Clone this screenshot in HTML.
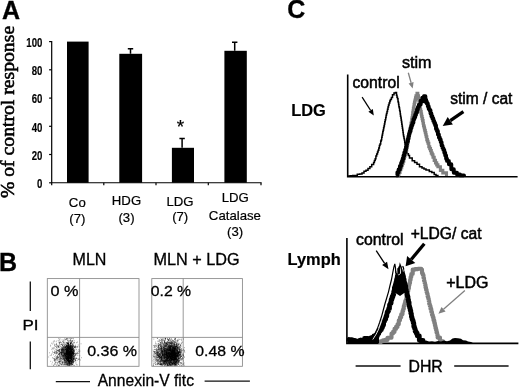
<!DOCTYPE html>
<html lang="en">
<head>
<meta charset="utf-8">
<title>Figure</title>
<style>
html,body{margin:0;padding:0;background:#fff;}
body{width:520px;height:387px;overflow:hidden;}
svg{display:block;filter:blur(0.35px);}
text{font-family:"Liberation Sans", sans-serif;fill:#000;stroke:#000;stroke-width:0.32px;}
.pl{font-size:25px;font-weight:bold;fill:#000;}
.t13{font-size:13.2px;stroke-width:0.2px;}
.t15{font-size:15.6px;stroke-width:0.5px;}
.t16{font-size:15.6px;stroke-width:0.4px;}
.b17{font-size:17.2px;font-weight:bold;stroke-width:0.2px;}
.t16b{font-size:16.4px;stroke-width:0.3px;}
.t15b{font-size:15.4px;stroke-width:0.3px;}
.b15{font-size:15.5px;font-weight:bold;fill:#000;}
.tk{font-size:12.5px;font-weight:bold;fill:#000;stroke-width:0.15px;}
.yl{font-family:"Liberation Serif", serif;font-size:19.7px;fill:#000;stroke-width:0.6px;}
.ax1{stroke:#000;stroke-width:1.2;fill:none;}
.ax2{stroke:#000;stroke-width:1.6;fill:none;}
.bx{stroke:#888;stroke-width:0.85;fill:none;}
.ln{stroke:#111;stroke-width:1.3;fill:none;}
</style>
</head>
<body>
<svg width="520" height="387" viewBox="0 0 520 387">
<rect width="520" height="387" fill="#fff"/>
<text x="1.9" y="18.6" class="pl">A</text>
<text x="-1" y="270.9" class="pl">B</text>
<text x="287.3" y="18.3" class="pl">C</text>
<path d="M51.7 41.0 V182.75 H261.6" class="ax1"/>
<path d="M49.1 41.6 H51.7" class="ax1"/>
<text class="tk" text-anchor="end" transform="translate(42.4 46.9) scale(0.77 1)">100</text>
<path d="M49.1 69.8 H51.7" class="ax1"/>
<text class="tk" text-anchor="end" transform="translate(42.4 75.1) scale(0.77 1)">80</text>
<path d="M49.1 98.1 H51.7" class="ax1"/>
<text class="tk" text-anchor="end" transform="translate(42.4 103.4) scale(0.77 1)">60</text>
<path d="M49.1 126.3 H51.7" class="ax1"/>
<text class="tk" text-anchor="end" transform="translate(42.4 131.6) scale(0.77 1)">40</text>
<path d="M49.1 154.5 H51.7" class="ax1"/>
<text class="tk" text-anchor="end" transform="translate(42.4 159.8) scale(0.77 1)">20</text>
<path d="M49.1 182.8 H51.7" class="ax1"/>
<text class="tk" text-anchor="end" transform="translate(42.4 188.1) scale(0.77 1)">0</text>
<path d="M51.7 182.75 v2.6" class="ax1"/>
<path d="M103.8 182.75 v2.6" class="ax1"/>
<path d="M156 182.75 v2.6" class="ax1"/>
<path d="M208.3 182.75 v2.6" class="ax1"/>
<path d="M261 182.75 v2.6" class="ax1"/>
<rect x="67" y="41.6" width="21.6" height="141.2" fill="#000"/>
<rect x="119.3" y="53.8" width="22.8" height="128.9" fill="#000"/>
<path d="M130.5 53.8 V48.8 M127.8 48.8 H133.2" stroke="#000" stroke-width="1.5" fill="none"/>
<rect x="171.9" y="147.8" width="22.1" height="34.9" fill="#000"/>
<path d="M182.1 147.8 V138.5 M179.4 138.5 H184.8" stroke="#000" stroke-width="1.5" fill="none"/>
<rect x="224.4" y="50.8" width="22.4" height="131.9" fill="#000"/>
<path d="M234.7 50.8 V42.2 M232.0 42.2 H237.4" stroke="#000" stroke-width="1.5" fill="none"/>
<text x="180.5" y="133" class="t13" text-anchor="middle" style="font-size:19px">*</text>
<text x="77.3" y="206.9" class="t13" text-anchor="middle">Co</text>
<text x="77.4" y="223" class="t13" text-anchor="middle">(7)</text>
<text x="126.5" y="205.4" class="t13" text-anchor="middle">HDG</text>
<text x="126.5" y="221.7" class="t13" text-anchor="middle">(3)</text>
<text x="180" y="205.5" class="t13" text-anchor="middle">LDG</text>
<text x="180.2" y="221.4" class="t13" text-anchor="middle">(7)</text>
<text x="235.2" y="201.9" class="t13" text-anchor="middle">LDG</text>
<text x="234.9" y="219.5" class="t13" text-anchor="middle">Catalase</text>
<text x="235.1" y="236.4" class="t13" text-anchor="middle">(3)</text>
<text class="yl" transform="translate(14.2 198.1) rotate(-90)">% of control response</text>
<rect x="47.3" y="278.6" width="91.7" height="87.7" class="bx"/>
<path d="M79.6 278.6 V366.3 M47.3 337.4 H139" class="bx"/>
<path d="M73.4 343.6h.7M66.7 344.0h.7M62.1 348.3h.7M69.8 355.2h.7M52.9 341.7h.7M66.2 359.3h.7M68.2 348.7h.7M60.2 357.9h.7M79.1 359.3h.7M64.8 353.2h.7M67.7 356.2h.7M56.1 365.2h.7M67.8 358.0h.7M62.2 362.0h.7M71.3 348.7h.7M71.4 348.8h.7M53.6 360.1h.7M58.9 350.0h.7M59.2 353.5h.7M62.8 355.2h.7M67.8 357.7h.7M68.0 359.9h.7M70.6 356.1h.7M57.8 347.1h.7M66.8 351.7h.7M62.5 350.2h.7M60.5 361.9h.7M69.9 344.8h.7M66.2 353.9h.7M62.1 361.6h.7M67.0 354.5h.7M59.7 360.9h.7M66.5 356.1h.7M60.7 364.8h.7M54.7 344.6h.7M58.6 350.3h.7M62.9 355.4h.7M73.4 358.1h.7M65.8 352.9h.7M67.3 359.8h.7M64.9 360.2h.7M49.8 355.4h.7M62.6 363.9h.7M71.3 356.3h.7M68.9 351.8h.7M59.4 362.3h.7M57.6 350.2h.7M57.8 347.1h.7M62.5 360.1h.7M59.0 359.3h.7M53.5 348.0h.7M59.6 358.8h.7M72.2 356.1h.7M56.3 349.2h.7M74.6 347.6h.7M58.3 350.7h.7M72.8 354.8h.7M55.6 349.5h.7M69.2 362.3h.7M74.5 357.7h.7M67.9 347.0h.7M61.5 344.1h.7M64.1 356.9h.7M65.3 347.2h.7M68.5 360.7h.7M72.7 338.4h.7M50.0 346.1h.7M68.3 361.5h.7M69.5 354.3h.7M66.5 352.2h.7M60.8 346.9h.7M68.5 358.0h.7M70.5 353.7h.7M61.1 349.8h.7M58.8 351.4h.7M57.4 356.4h.7M69.1 362.8h.7M73.0 351.3h.7M66.2 348.3h.7M65.4 354.7h.7M68.1 353.6h.7M58.4 361.2h.7M64.2 344.0h.7M54.4 358.9h.7M54.0 358.9h.7M74.4 357.9h.7M70.0 358.1h.7M61.3 355.6h.7M53.5 358.5h.7M69.0 355.1h.7M71.7 352.8h.7M54.5 364.2h.7M65.6 349.6h.7M61.8 351.4h.7M66.3 344.9h.7M65.7 351.5h.7M69.0 351.7h.7M68.9 347.7h.7M67.2 351.8h.7M71.6 356.7h.7M71.3 350.6h.7M61.3 353.8h.7M58.7 352.0h.7M72.8 346.3h.7M61.5 354.6h.7M61.6 350.7h.7M66.6 349.3h.7M52.8 358.2h.7M67.3 356.0h.7M68.4 355.3h.7M61.1 358.5h.7M64.8 355.2h.7M58.3 354.6h.7M64.7 347.8h.7M60.3 350.9h.7M65.1 349.5h.7M58.3 354.5h.7M57.6 356.3h.7M59.7 352.6h.7M56.8 350.3h.7M64.1 347.7h.7M59.2 349.6h.7M58.8 354.7h.7M60.8 352.9h.7M65.2 358.8h.7M61.1 351.0h.7M67.6 338.5h.7M65.3 347.5h.7M70.3 351.7h.7M59.6 361.5h.7M61.6 347.7h.7M67.8 340.2h.7M63.9 359.0h.7M57.3 360.7h.7M63.1 350.1h.7M54.8 364.1h.7M73.2 351.5h.7M67.2 340.4h.7M65.4 356.6h.7M60.3 349.4h.7M63.7 348.1h.7M54.7 359.3h.7M70.3 358.1h.7M69.4 361.4h.7M65.1 350.0h.7M57.8 357.5h.7M58.8 345.4h.7M79.6 351.1h.7M65.9 358.1h.7M68.6 353.2h.7M68.1 353.3h.7M62.2 352.1h.7M68.7 358.9h.7M67.6 343.1h.7M63.6 357.6h.7M62.6 357.5h.7M65.7 362.5h.7M51.0 355.2h.7M71.5 358.8h.7M61.8 352.4h.7M62.8 357.0h.7M69.5 349.8h.7M71.5 357.3h.7M52.3 351.3h.7M64.2 349.2h.7M65.5 353.6h.7M64.4 352.0h.7M66.7 349.7h.7M68.3 341.3h.7M65.4 350.5h.7M62.6 356.0h.7M56.1 352.5h.7M63.3 350.5h.7M61.0 358.9h.7M65.0 346.5h.7M59.7 360.7h.7M65.6 356.6h.7M65.1 355.5h.7M61.7 347.0h.7M59.0 347.7h.7M75.7 358.4h.7M65.3 353.2h.7M55.1 359.4h.7M54.4 361.3h.7M61.9 344.0h.7M73.9 347.0h.7M63.3 352.9h.7M55.9 357.1h.7M56.9 352.6h.7M58.0 365.3h.7M65.3 364.4h.7M61.8 355.6h.7M68.2 354.5h.7M63.3 362.0h.7M67.3 354.5h.7M58.7 357.4h.7M62.8 352.0h.7M56.0 351.4h.7M73.4 350.4h.7M58.9 351.9h.7M71.4 349.4h.7M55.0 355.7h.7M62.9 355.0h.7M54.6 346.1h.7M63.1 356.4h.7M75.6 363.7h.7M71.9 360.8h.7M71.3 358.5h.7M68.8 351.2h.7M62.0 363.3h.7M57.9 349.9h.7M63.6 355.3h.7M60.9 350.7h.7M60.2 348.7h.7M57.4 355.3h.7M64.5 358.4h.7M63.1 346.3h.7M61.6 351.7h.7M55.9 353.3h.7M65.6 343.3h.7M56.9 359.7h.7M59.2 349.3h.7M61.4 349.5h.7M68.2 355.6h.7M77.9 351.4h.7M67.2 349.0h.7M70.8 343.1h.7M59.9 352.4h.7M77.1 353.9h.7M55.5 357.9h.7M71.6 349.2h.7M54.7 351.1h.7M63.4 352.2h.7M64.1 354.3h.7M62.1 345.3h.7M72.2 361.1h.7M58.0 347.6h.7M59.6 338.6h.7M56.9 357.2h.7M56.9 352.2h.7M63.3 349.8h.7M67.9 355.2h.7M72.6 356.4h.7M66.9 357.5h.7M66.8 351.7h.7M59.3 362.9h.7M60.5 351.8h.7M70.4 361.1h.7M73.4 355.4h.7M63.6 362.1h.7M54.6 359.1h.7M69.2 365.4h.7M73.6 356.2h.7M67.9 347.1h.7M68.4 348.5h.7M75.9 353.2h.7M56.7 364.9h.7M63.1 358.6h.7M64.5 365.1h.7M72.5 352.9h.7M72.4 360.9h.7M73.7 346.5h.7M70.4 354.1h.7M66.6 342.9h.7M78.2 353.6h.7M67.8 343.4h.7M63.8 355.3h.7M65.8 346.0h.7M67.2 351.1h.7M70.6 345.8h.7M72.3 346.6h.7M58.1 357.4h.7M68.8 357.1h.7M61.5 351.9h.7M59.4 362.1h.7M54.1 345.4h.7M57.8 357.8h.7M55.8 359.7h.7M54.5 341.6h.7M67.0 356.9h.7M62.7 363.7h.7M62.3 350.3h.7M63.9 363.7h.7M73.5 361.9h.7M70.6 363.4h.7M66.1 353.1h.7M57.8 340.5h.7M65.9 346.1h.7M65.0 348.1h.7M67.1 347.0h.7M66.5 353.7h.7M62.2 352.1h.7M53.1 354.7h.7M65.2 355.7h.7M67.1 347.0h.7M73.0 359.5h.7M67.1 352.2h.7M60.6 349.7h.7M67.3 354.7h.7M70.1 355.7h.7M62.3 362.4h.7M56.2 344.3h.7M67.4 350.5h.7M56.2 343.3h.7M65.0 363.9h.7M73.8 353.2h.7M63.4 348.0h.7M76.7 353.4h.7M62.7 359.5h.7M72.1 354.3h.7M72.6 344.9h.7M67.8 358.3h.7M67.5 358.8h.7M66.1 358.2h.7M52.0 348.7h.7M70.3 346.0h.7M65.4 356.0h.7M63.4 348.0h.7M66.7 364.1h.7M54.0 353.1h.7M62.6 355.0h.7M69.1 356.3h.7M55.3 352.3h.7M64.2 353.6h.7M71.6 351.7h.7M61.1 352.8h.7M65.2 359.0h.7M54.4 344.2h.7M64.5 360.7h.7M64.6 355.7h.7M75.8 354.8h.7M66.8 353.7h.7M71.0 357.7h.7M63.4 359.1h.7M67.8 350.5h.7M58.3 346.3h.7M64.3 352.6h.7M66.5 353.8h.7M66.0 362.2h.7M72.9 338.9h.7M68.4 354.2h.7M68.4 354.4h.7M67.2 352.4h.7M61.0 352.8h.7M70.0 354.3h.7M64.6 363.1h.7M70.3 347.7h.7M60.1 352.8h.7M68.0 361.5h.7M54.5 363.7h.7M65.4 355.6h.7M70.1 356.0h.7M66.2 361.2h.7M72.3 346.0h.7M55.2 346.4h.7M66.6 352.2h.7M63.8 350.4h.7M59.8 357.8h.7M64.7 356.2h.7M68.3 364.7h.7M78.1 349.8h.7M73.0 355.3h.7M67.7 362.2h.7M61.4 353.1h.7M71.0 358.4h.7M76.2 358.5h.7M65.8 353.2h.7M68.7 340.9h.7M73.0 356.4h.7M61.2 354.7h.7M68.4 345.5h.7M70.5 338.3h.7M74.0 352.0h.7M66.6 352.1h.7M61.3 361.0h.7M59.1 353.5h.7M68.3 345.3h.7M68.8 347.6h.7M70.4 351.6h.7M73.0 353.6h.7M58.8 361.0h.7M72.4 360.8h.7M55.9 346.3h.7M70.7 357.5h.7M63.1 352.7h.7M66.1 338.5h.7M57.6 345.2h.7M71.4 351.3h.7M52.1 352.9h.7M62.8 348.8h.7M56.0 347.4h.7M66.8 350.8h.7M69.7 363.6h.7M62.9 342.5h.7M58.9 354.5h.7M69.6 352.6h.7M64.7 355.6h.7M72.5 359.1h.7M62.7 349.7h.7M64.8 349.6h.7M58.9 361.4h.7M66.2 346.2h.7M67.5 346.4h.7M59.0 342.2h.7M57.6 350.4h.7M66.5 353.2h.7M66.7 354.2h.7M62.1 362.4h.7M58.1 346.6h.7M77.5 355.6h.7M58.2 365.5h.7M64.7 352.5h.7M58.8 353.5h.7M69.5 353.8h.7M62.0 356.7h.7M72.7 354.3h.7M62.3 351.0h.7M67.3 349.6h.7M73.6 349.8h.7M71.5 352.6h.7M69.5 345.6h.7M63.6 346.7h.7M60.1 353.6h.7M75.3 360.5h.7M65.0 349.7h.7M54.3 359.8h.7M57.6 353.5h.7M61.2 353.9h.7M75.3 353.3h.7M63.7 360.5h.7M61.7 339.9h.7M60.2 352.1h.7M60.1 361.0h.7M72.3 346.6h.7M65.2 355.4h.7M62.3 349.3h.7M67.6 351.0h.7M76.1 353.7h.7M65.0 355.3h.7M66.3 350.8h.7M68.5 359.8h.7M66.3 356.9h.7M56.4 350.8h.7M65.5 351.6h.7M71.6 356.6h.7M64.8 349.1h.7M62.5 352.0h.7M75.1 345.2h.7M70.7 351.2h.7M74.9 360.6h.7M59.6 356.4h.7M56.3 359.0h.7M64.1 346.3h.7M64.6 358.1h.7M80.0 360.0h.7M67.3 353.4h.7M51.1 343.2h.7M50.4 345.2h.7M71.0 363.1h.7M66.7 351.0h.7M65.9 364.0h.7M73.3 348.0h.7M65.8 348.0h.7M67.0 350.8h.7M59.2 358.9h.7M64.5 352.2h.7M70.3 357.2h.7M57.2 357.4h.7M54.0 360.4h.7M76.9 347.0h.7M72.4 358.9h.7M58.4 351.2h.7M65.4 354.8h.7M70.0 354.9h.7M63.8 346.8h.7M60.2 352.5h.7M78.8 351.3h.7M64.5 361.1h.7M69.9 358.5h.7M65.5 365.7h.7M61.4 364.2h.7M74.6 355.9h.7M61.7 349.4h.7M66.6 339.6h.7M72.9 347.8h.7M57.4 357.6h.7M65.4 347.7h.7M73.1 345.5h.7M61.4 342.5h.7M75.8 358.2h.7M56.1 357.6h.7M61.2 347.8h.7M63.9 339.7h.7M66.2 354.0h.7M74.2 347.6h.7M56.3 347.1h.7M61.3 360.0h.7M78.8 358.2h.7M67.6 345.8h.7M56.2 345.2h.7M69.0 362.1h.7M63.6 344.6h.7M69.7 353.2h.7M60.4 342.6h.7M53.6 364.9h.7M62.0 356.1h.7M68.0 360.4h.7M78.7 352.7h.7M72.4 347.7h.7M56.1 353.8h.7M52.8 342.9h.7M60.2 358.5h.7M63.5 341.0h.7M64.8 349.7h.7M61.7 349.7h.7M64.3 359.5h.7M68.1 354.2h.7M59.8 342.6h.7M76.8 364.9h.7M54.4 356.7h.7M67.4 354.8h.7M66.1 351.0h.7M73.8 356.5h.7M71.2 356.0h.7M66.2 350.7h.7M72.5 340.7h.7M73.5 352.4h.7M66.6 350.2h.7M53.7 347.4h.7M67.5 350.7h.7M68.0 347.6h.7M54.0 353.0h.7M62.3 348.4h.7M73.9 340.8h.7M65.7 351.8h.7M73.1 354.9h.7M67.1 355.8h.7M66.3 352.4h.7M64.0 360.1h.7M78.7 346.8h.7M66.5 346.2h.7M66.5 364.2h.7M66.3 345.5h.7M76.0 342.7h.7M58.5 362.5h.7M70.5 358.3h.7M62.7 348.9h.7M57.7 362.7h.7M67.8 358.0h.7M61.6 350.5h.7M68.1 348.2h.7M71.4 361.7h.7M57.2 358.5h.7M66.6 355.5h.7M62.9 362.4h.7M66.3 358.7h.7M67.4 349.4h.7M75.7 353.8h.7M71.7 363.5h.7M74.4 361.0h.7M64.3 359.0h.7M61.9 355.8h.7M59.2 342.3h.7M59.4 342.8h.7M67.6 358.9h.7M67.9 348.5h.7M64.8 344.6h.7M67.6 358.1h.7M76.8 346.8h.7M64.1 353.3h.7M79.5 355.8h.7M67.9 343.3h.7M73.5 358.9h.7M62.7 347.5h.7M66.5 349.7h.7M79.0 350.0h.7M62.1 359.5h.7M66.6 347.6h.7M56.9 348.1h.7M74.8 349.9h.7M64.1 360.7h.7M75.0 359.9h.7M67.5 349.7h.7M59.4 355.2h.7M64.7 355.7h.7M52.4 344.0h.7M69.9 364.7h.7M66.1 345.1h.7M68.8 347.8h.7M63.3 352.1h.7M69.7 361.9h.7M68.8 347.1h.7M71.6 350.6h.7M55.8 360.8h.7M76.7 346.5h.7M62.7 349.7h.7M62.1 362.6h.7M70.1 355.4h.7M66.1 348.6h.7M61.8 349.0h.7M68.7 358.9h.7M62.8 359.3h.7M58.5 350.2h.7M64.5 360.0h.7M66.7 347.8h.7M68.6 359.8h.7M58.2 338.7h.7M68.6 346.7h.7M72.9 356.4h.7M70.3 352.9h.7M59.8 353.1h.7M62.4 355.8h.7M57.9 346.4h.7M65.6 354.8h.7M65.3 360.8h.7M56.0 358.6h.7M63.4 353.8h.7M71.7 354.9h.7M70.5 365.5h.7M64.7 340.9h.7M61.8 350.7h.7M66.3 348.2h.7M65.9 355.8h.7M53.1 365.5h.7M61.3 344.2h.7M60.2 359.3h.7M60.9 362.4h.7M60.8 354.4h.7M62.3 353.8h.7M66.8 346.9h.7M58.9 343.6h.7M72.1 353.3h.7M73.0 358.5h.7M63.1 349.4h.7M65.9 348.2h.7M64.8 357.1h.7M57.4 345.7h.7M63.2 348.2h.7M64.4 356.3h.7M67.1 359.0h.7M65.5 356.1h.7M64.3 354.6h.7M64.5 354.0h.7M62.9 356.2h.7M70.0 363.5h.7M74.7 359.6h.7M61.2 344.6h.7M55.3 351.8h.7M66.2 361.3h.7M65.6 354.1h.7M57.6 359.1h.7M76.6 351.0h.7M78.1 359.3h.7M59.9 358.6h.7M66.5 356.7h.7M57.6 356.7h.7M70.5 345.4h.7M68.0 363.1h.7M67.0 349.1h.7M63.7 359.4h.7M68.4 353.3h.7M61.0 348.9h.7M63.9 345.6h.7M63.7 353.6h.7M65.7 358.3h.7M63.4 357.9h.7M59.8 346.1h.7M61.4 357.6h.7M61.0 348.7h.7M66.4 339.6h.7M54.8 362.0h.7M61.2 350.0h.7M61.5 354.4h.7M62.0 352.1h.7M69.5 356.1h.7M65.7 349.1h.7M66.2 352.4h.7M64.7 354.6h.7M61.7 344.7h.7M67.4 341.0h.7M70.4 349.8h.7M59.3 361.4h.7M60.9 354.4h.7M59.4 357.0h.7M67.0 352.1h.7M63.6 342.8h.7M71.9 349.2h.7M64.1 350.4h.7M66.4 352.3h.7M62.6 351.8h.7M66.2 365.0h.7M58.0 361.4h.7M65.5 357.2h.7M60.8 361.1h.7M69.6 340.5h.7M61.4 352.2h.7M55.6 353.7h.7M65.3 350.4h.7M72.8 352.4h.7M70.1 354.2h.7M66.0 351.9h.7M61.5 364.1h.7M71.9 362.3h.7M60.9 350.9h.7M65.9 351.4h.7M68.7 365.6h.7M61.5 351.0h.7M55.6 362.8h.7M66.1 356.3h.7M60.8 354.0h.7M63.1 349.1h.7M68.2 363.3h.7M72.6 351.7h.7M65.1 344.5h.7M63.3 356.1h.7M61.2 353.2h.7M59.0 350.8h.7M57.4 350.7h.7M51.8 347.9h.7M62.1 352.8h.7M72.6 346.1h.7M60.5 359.8h.7M59.3 351.2h.7M78.1 359.2h.7M77.3 353.1h.7M56.1 356.4h.7M59.1 355.5h.7M67.3 358.0h.7M60.0 354.8h.7M67.2 363.6h.7M68.8 356.7h.7M61.2 356.3h.7M68.8 346.8h.7M68.9 355.9h.7M63.3 348.1h.7M63.7 358.7h.7M75.4 355.0h.7M62.9 358.8h.7M70.8 359.3h.7M66.1 353.4h.7M57.9 354.2h.7M58.8 351.7h.7M72.5 349.7h.7M50.4 361.3h.7M64.2 353.9h.7M53.8 340.6h.7M62.6 350.0h.7M65.9 352.3h.7M66.9 350.8h.7M67.1 350.2h.7M67.9 358.4h.7M55.5 353.7h.7M62.6 353.8h.7M76.2 349.5h.7M63.9 355.5h.7M51.6 364.0h.7M68.6 352.7h.7M59.9 363.5h.7M75.5 348.1h.7M67.9 344.6h.7M66.6 349.0h.7M68.5 351.2h.7M72.6 362.7h.7M75.4 353.3h.7M63.1 351.8h.7M61.2 353.2h.7M58.8 352.1h.7M69.9 361.0h.7M67.5 342.9h.7M70.3 351.2h.7M69.0 353.3h.7M55.4 362.2h.7M70.3 357.7h.7M69.3 354.3h.7M57.7 364.8h.7M63.0 351.7h.7M68.0 342.3h.7M63.7 358.2h.7M66.1 360.4h.7M66.1 354.4h.7M67.9 361.4h.7M66.7 353.6h.7M67.2 345.5h.7M77.3 342.1h.7M64.1 348.6h.7M65.8 353.4h.7M71.4 353.4h.7M58.9 354.1h.7M62.8 361.1h.7M65.1 362.8h.7M60.5 356.2h.7M68.6 354.2h.7M66.9 342.8h.7M68.1 352.1h.7M76.6 347.3h.7M76.9 352.6h.7M53.2 348.9h.7M66.9 357.2h.7M71.1 362.6h.7M68.9 352.8h.7M73.4 365.4h.7M67.3 351.4h.7M69.9 355.2h.7M64.9 354.9h.7M72.2 364.9h.7M71.3 357.1h.7M63.0 342.8h.7M63.8 357.6h.7M59.8 357.1h.7M60.1 355.9h.7M48.4 357.0h.7M69.5 354.3h.7M69.3 347.1h.7M65.5 351.1h.7M65.4 354.0h.7M66.0 348.7h.7M62.3 341.3h.7M62.1 350.9h.7M65.5 357.1h.7M69.5 350.3h.7M63.2 357.0h.7M67.6 345.3h.7M54.3 351.1h.7M63.2 346.6h.7M66.2 357.0h.7M71.0 345.4h.7M72.6 349.5h.7M71.6 354.0h.7M73.5 358.2h.7M64.9 361.2h.7M61.3 358.7h.7M56.7 353.0h.7M76.8 360.6h.7M59.2 363.7h.7M63.2 357.0h.7M62.9 358.6h.7M61.9 364.2h.7M63.2 349.7h.7M62.6 344.4h.7M69.3 362.1h.7M73.5 357.7h.7M64.2 363.6h.7M74.0 349.7h.7M57.5 350.6h.7M65.1 362.2h.7M71.8 356.8h.7M72.2 352.3h.7M64.5 338.4h.7M62.0 352.5h.7M72.4 353.5h.7M63.0 355.1h.7M63.0 340.2h.7M61.1 353.1h.7M63.9 349.5h.7M62.4 358.4h.7M56.1 352.2h.7M61.5 352.4h.7M65.4 359.1h.7M49.1 352.8h.7M58.1 342.1h.7M66.2 354.9h.7M60.7 352.6h.7M60.0 364.2h.7M75.6 362.3h.7M57.9 359.1h.7M67.1 354.7h.7M64.2 352.2h.7M61.5 349.3h.7M68.5 349.3h.7M61.1 358.0h.7M59.3 344.7h.7M61.2 356.3h.7M61.8 350.0h.7M77.8 345.0h.7M69.2 353.0h.7M57.3 356.0h.7M64.0 349.1h.7M62.5 354.7h.7M81.0 357.7h.7M63.5 344.0h.7M66.5 359.8h.7M56.2 341.2h.7M55.6 362.6h.7M64.4 348.9h.7M65.9 353.4h.7M64.2 362.4h.7M70.3 351.4h.7M72.7 361.4h.7M63.5 350.8h.7M62.7 347.3h.7M52.0 362.2h.7M63.2 347.2h.7M62.6 356.9h.7M71.8 357.6h.7M69.4 362.1h.7M66.7 362.3h.7M70.6 349.2h.7M69.7 351.2h.7M71.4 362.5h.7M56.6 358.4h.7M59.2 350.3h.7M62.2 357.8h.7M69.2 353.7h.7M52.3 357.7h.7M61.4 349.8h.7M66.5 352.0h.7M71.3 351.2h.7M59.6 340.0h.7M53.6 352.4h.7M68.9 346.7h.7M69.0 351.1h.7M70.4 363.5h.7M67.9 347.3h.7M71.4 355.4h.7M65.4 356.8h.7M69.3 362.5h.7M57.0 362.9h.7M66.6 363.7h.7M64.4 359.9h.7M71.0 363.6h.7M63.2 364.6h.7M62.0 345.5h.7M60.1 344.7h.7M73.7 361.2h.7M53.7 352.5h.7M66.6 355.6h.7M61.8 349.1h.7M70.3 353.4h.7M59.6 356.0h.7M61.0 352.2h.7M69.8 352.6h.7M80.7 343.8h.7M59.0 365.4h.7M66.3 352.8h.7M71.0 352.7h.7M59.1 365.1h.7M65.7 355.5h.7M66.1 353.7h.7M59.8 346.8h.7M54.8 360.5h.7M65.6 352.5h.7M56.0 344.3h.7M62.5 356.4h.7M64.0 353.4h.7M59.6 359.7h.7M66.8 363.4h.7M68.3 346.8h.7M61.1 352.8h.7M72.0 354.4h.7M65.0 364.2h.7M70.5 358.7h.7M54.2 352.7h.7M77.3 358.9h.7M69.9 339.9h.7M67.3 352.6h.7M59.6 361.4h.7M60.5 363.3h.7M67.9 350.4h.7M63.8 356.6h.7M64.9 348.0h.7M63.0 352.7h.7M54.6 348.7h.7M59.5 356.4h.7M65.9 345.2h.7M61.2 354.7h.7M60.0 341.7h.7M70.3 354.0h.7M63.0 350.6h.7M67.1 351.0h.7M65.3 362.0h.7M58.8 353.7h.7M57.1 346.3h.7M56.4 351.1h.7M62.2 346.9h.7M64.4 357.7h.7M61.9 348.0h.7M69.8 352.3h.7M66.4 346.4h.7M68.5 360.0h.7M58.6 346.2h.7M62.4 358.2h.7M69.6 362.1h.7M59.3 339.9h.7M59.5 354.4h.7M67.7 344.2h.7M64.6 351.4h.7M67.8 347.5h.7M63.8 351.5h.7M66.5 354.0h.7M67.4 355.4h.7M70.0 347.0h.7M56.5 358.6h.7M62.0 348.2h.7M60.1 357.6h.7M54.6 360.4h.7M62.1 354.0h.7M74.1 354.7h.7M71.3 363.9h.7M61.5 351.1h.7M73.4 358.5h.7M59.5 353.4h.7M67.9 344.5h.7M59.1 343.3h.7M63.2 354.6h.7M64.0 352.9h.7M66.8 356.8h.7M64.6 364.6h.7M72.2 349.8h.7M51.0 354.1h.7M74.0 365.4h.7M62.2 349.8h.7M65.4 349.5h.7M59.2 349.6h.7M76.4 364.7h.7M67.0 360.5h.7M61.8 349.6h.7M69.3 357.4h.7M57.0 363.2h.7M51.5 349.4h.7M72.4 364.4h.7M64.1 357.2h.7M65.6 346.2h.7M63.2 351.5h.7M71.1 352.4h.7" stroke="#000" stroke-width="0.7" fill="none" opacity="0.62"/>
<path d="M72.2 362.4h.8M69.2 349.6h.8M66.3 354.2h.8M66.4 345.7h.8M69.5 354.8h.8M70.4 348.7h.8M69.0 353.6h.8M65.2 357.1h.8M69.5 353.2h.8M72.1 355.2h.8M71.3 351.9h.8M69.5 359.9h.8M70.7 354.7h.8M66.3 356.6h.8M69.2 358.2h.8M69.5 360.3h.8M68.9 355.2h.8M70.7 347.7h.8M68.0 351.1h.8M74.0 353.5h.8M70.6 357.6h.8M68.3 345.0h.8M71.4 351.6h.8M70.8 346.4h.8M67.9 361.3h.8M72.6 346.4h.8M65.7 353.7h.8M70.8 354.9h.8M69.8 348.3h.8M70.5 360.5h.8M67.9 345.7h.8M67.1 358.4h.8M64.7 353.5h.8M66.5 353.2h.8M68.4 354.1h.8M72.8 356.4h.8M72.3 353.2h.8M67.8 356.2h.8M61.9 353.8h.8M69.4 346.8h.8M70.2 350.8h.8M62.9 352.8h.8M66.6 351.0h.8M68.6 361.3h.8M69.3 353.8h.8M70.0 343.5h.8M72.1 347.8h.8M70.1 347.5h.8M66.6 351.7h.8M73.7 358.0h.8M67.5 352.4h.8M66.1 353.8h.8M67.6 358.2h.8M65.6 352.1h.8M66.9 349.8h.8M70.8 354.7h.8M70.5 360.9h.8M71.9 346.0h.8M70.3 343.8h.8M68.8 365.1h.8M68.5 351.9h.8M69.4 354.1h.8M69.1 349.6h.8M71.7 359.2h.8M68.5 355.8h.8M70.6 360.0h.8M70.0 358.0h.8M68.3 347.8h.8M67.8 359.9h.8M71.4 354.8h.8M67.6 355.8h.8M73.2 361.9h.8M67.3 353.7h.8M65.4 347.4h.8M69.5 354.1h.8M71.4 361.4h.8M71.1 361.7h.8M67.6 347.5h.8M69.9 347.3h.8M69.6 362.3h.8M66.4 358.7h.8M67.5 361.4h.8M71.0 355.8h.8M74.0 351.6h.8M67.3 364.8h.8M68.9 348.0h.8M69.0 354.8h.8M69.5 352.9h.8M71.7 340.5h.8M67.6 352.5h.8M73.5 342.4h.8M68.2 347.4h.8M67.3 357.7h.8M70.0 362.4h.8M67.5 355.6h.8M71.9 359.2h.8M68.2 360.5h.8M66.7 364.5h.8M69.4 353.3h.8M69.7 358.9h.8M73.4 353.2h.8M68.1 357.4h.8M66.8 344.2h.8M71.1 351.8h.8M71.8 348.0h.8M61.8 355.6h.8M69.4 363.3h.8M70.3 355.8h.8M70.5 351.9h.8M69.2 346.2h.8M70.3 349.3h.8M67.9 358.1h.8M71.3 348.2h.8M74.0 350.6h.8M71.1 359.5h.8M69.6 355.0h.8M73.5 359.2h.8M70.1 343.4h.8M67.1 360.7h.8M69.5 348.5h.8M67.4 352.2h.8M70.7 356.2h.8M71.5 349.3h.8M71.5 351.1h.8M68.3 364.1h.8M69.2 353.2h.8M68.5 351.8h.8M72.9 362.0h.8M70.8 355.1h.8M71.6 353.5h.8M70.1 356.3h.8M69.2 363.6h.8M73.4 361.7h.8M64.2 364.6h.8M70.8 351.4h.8M68.9 360.6h.8M71.9 359.0h.8M69.4 354.2h.8M71.1 353.5h.8M66.8 350.4h.8M68.7 355.9h.8M74.7 346.1h.8M70.2 353.5h.8M69.8 361.9h.8M72.1 353.1h.8M67.6 346.1h.8M68.8 361.2h.8M68.3 358.1h.8M70.8 356.3h.8M71.7 353.3h.8M66.9 347.2h.8M71.3 351.9h.8M68.2 358.8h.8M67.0 364.3h.8M70.7 350.9h.8M67.4 360.3h.8M66.0 350.3h.8M69.0 355.2h.8M69.0 356.2h.8M68.1 353.3h.8M72.2 357.7h.8M67.9 363.9h.8M64.0 354.5h.8M70.7 359.6h.8M69.3 351.8h.8M70.5 352.9h.8M70.0 349.4h.8M71.4 358.3h.8M70.8 351.7h.8M70.1 352.0h.8M69.5 353.2h.8M66.8 365.5h.8M70.8 342.1h.8M71.2 345.9h.8M68.4 350.6h.8M67.7 355.4h.8M68.2 345.6h.8M69.0 356.1h.8M73.4 351.6h.8M66.0 351.8h.8M70.6 348.9h.8M67.2 357.2h.8M69.0 355.3h.8M67.4 349.2h.8M68.2 353.1h.8M68.2 356.5h.8M70.4 357.2h.8M70.2 348.9h.8M66.2 358.6h.8M69.0 354.7h.8M66.1 352.8h.8M67.4 349.0h.8M67.4 345.3h.8M69.2 360.8h.8M67.2 354.5h.8M66.3 357.9h.8M73.7 346.8h.8M68.4 362.3h.8M69.9 354.7h.8M63.9 353.1h.8M71.3 362.3h.8M70.6 350.6h.8M67.3 343.4h.8M66.3 360.5h.8M68.7 346.2h.8M72.3 344.3h.8M72.2 352.1h.8M69.8 357.9h.8M69.7 361.4h.8M69.0 352.1h.8M67.3 345.6h.8M67.3 359.7h.8M71.1 362.1h.8M75.8 358.1h.8M70.3 346.4h.8M70.3 353.2h.8M69.8 343.0h.8M66.9 346.4h.8M63.7 358.5h.8M71.4 353.0h.8M69.9 348.2h.8M70.1 358.4h.8M72.8 363.1h.8M70.2 353.3h.8M66.9 350.5h.8M70.5 357.3h.8M69.0 363.7h.8M70.6 354.1h.8M68.5 354.4h.8M66.6 348.3h.8M69.9 350.6h.8M68.3 361.1h.8M68.5 361.6h.8M69.0 362.8h.8M70.2 343.8h.8M72.1 352.8h.8M64.1 354.7h.8M69.4 346.5h.8M67.5 357.2h.8M72.5 360.6h.8M72.1 360.5h.8M62.8 349.8h.8M69.5 338.4h.8M70.9 359.2h.8M67.1 351.8h.8M66.7 353.9h.8M68.9 354.0h.8M66.4 356.2h.8M68.1 359.5h.8M69.8 345.4h.8M65.4 354.4h.8M67.8 356.7h.8M71.0 354.1h.8M64.8 347.1h.8M70.4 347.9h.8M71.8 353.5h.8M70.3 348.9h.8M68.5 357.3h.8M66.8 349.1h.8M68.9 354.4h.8M67.0 357.9h.8M64.9 360.5h.8M65.5 349.2h.8M72.3 348.2h.8M64.9 354.4h.8M66.7 347.5h.8M67.2 349.7h.8M66.6 348.0h.8M73.0 350.1h.8M71.4 345.9h.8M70.4 346.7h.8M67.9 357.7h.8M67.7 342.6h.8M67.6 353.1h.8M70.4 348.2h.8M68.3 354.4h.8M64.9 353.4h.8M66.9 356.5h.8M68.7 353.0h.8M63.0 353.4h.8M68.1 348.5h.8M67.7 346.7h.8M69.4 357.8h.8M70.5 351.0h.8M73.2 359.0h.8M66.6 353.2h.8M64.9 353.3h.8M70.8 361.4h.8M68.0 343.6h.8M68.6 361.9h.8M69.4 361.4h.8M71.1 363.0h.8M70.5 350.1h.8M67.7 343.2h.8M74.3 356.4h.8M67.4 350.5h.8M65.1 358.1h.8M69.4 350.3h.8M67.9 351.5h.8M71.7 352.9h.8M72.4 349.1h.8M67.5 351.2h.8M67.7 353.5h.8M71.6 361.0h.8M66.3 361.4h.8M69.2 363.2h.8M68.6 349.1h.8M71.0 357.6h.8M67.9 354.1h.8M69.3 355.8h.8M64.7 347.0h.8M69.1 355.5h.8M67.7 343.8h.8M72.4 352.2h.8M66.4 363.2h.8M71.8 360.0h.8M71.1 357.3h.8M66.6 354.2h.8M69.9 357.7h.8M70.2 348.2h.8M67.5 352.1h.8M68.5 348.9h.8M64.4 346.9h.8M69.8 353.9h.8M70.4 343.1h.8M68.0 359.2h.8M64.1 347.7h.8M64.8 361.0h.8M69.1 350.7h.8M69.4 353.5h.8M71.3 360.8h.8M71.3 356.0h.8M70.9 358.7h.8M71.9 343.3h.8M69.9 354.5h.8M69.4 352.6h.8M68.8 356.9h.8M69.5 354.7h.8M66.3 346.7h.8M67.1 343.7h.8M67.7 349.1h.8M64.5 342.8h.8M67.8 350.6h.8M74.4 359.0h.8M67.0 351.1h.8M66.5 349.4h.8M68.1 353.7h.8M67.4 358.8h.8M70.6 365.3h.8M65.7 357.9h.8M68.1 344.7h.8M68.2 344.5h.8M72.3 364.6h.8M72.0 345.0h.8M70.0 354.8h.8M70.1 348.0h.8M72.0 355.8h.8M67.8 355.1h.8M65.9 359.6h.8M69.4 353.1h.8M67.9 353.6h.8M69.3 351.7h.8M71.4 355.2h.8M68.8 349.0h.8M72.0 361.5h.8M70.7 343.3h.8M68.1 359.8h.8M69.1 361.4h.8M67.9 358.6h.8M70.3 339.8h.8M68.0 352.6h.8M67.4 348.8h.8M73.0 353.3h.8M71.0 346.2h.8M63.8 351.3h.8M70.0 349.8h.8M70.3 358.7h.8M67.9 353.7h.8M67.2 360.3h.8M73.4 356.9h.8M67.7 349.9h.8M68.3 359.2h.8M67.1 362.6h.8M65.9 354.0h.8M72.3 364.3h.8M68.0 358.6h.8M75.3 360.8h.8M63.5 355.6h.8M74.9 347.3h.8M71.3 341.9h.8M73.0 349.1h.8M71.0 359.3h.8M62.0 345.7h.8M69.8 345.2h.8M69.0 348.5h.8M72.4 351.0h.8M66.7 357.7h.8M72.1 353.1h.8M69.7 356.9h.8M67.8 347.1h.8M70.3 352.0h.8M65.6 359.0h.8M70.1 354.8h.8M67.1 352.7h.8M70.5 356.8h.8M66.9 348.8h.8M69.9 355.1h.8M71.1 347.3h.8M71.3 364.2h.8M71.4 354.8h.8M71.3 346.5h.8M64.9 347.3h.8M71.1 350.2h.8M67.6 347.5h.8M73.2 350.5h.8M68.3 343.5h.8M70.9 353.9h.8M70.2 363.2h.8M69.4 347.1h.8M66.5 354.5h.8M72.3 347.0h.8M68.4 353.2h.8M70.6 348.8h.8M69.8 358.5h.8M68.9 353.4h.8M70.5 357.4h.8M72.1 347.7h.8M72.1 352.7h.8M66.2 350.8h.8M65.9 352.8h.8M71.6 341.0h.8M66.0 358.5h.8M68.2 358.6h.8M65.7 353.7h.8M62.5 349.1h.8M70.8 361.0h.8M73.1 353.7h.8M66.8 351.8h.8M64.2 361.9h.8M71.9 348.7h.8M73.6 346.2h.8M70.4 349.3h.8M64.7 356.3h.8M66.1 360.9h.8M66.8 354.6h.8M67.8 354.8h.8M67.4 358.8h.8M70.5 354.4h.8M68.7 365.4h.8M67.3 351.5h.8M70.9 353.9h.8M64.9 353.2h.8M68.0 348.2h.8M69.5 347.4h.8M68.4 347.4h.8M72.9 352.4h.8M70.1 355.7h.8M70.8 353.1h.8M70.9 354.7h.8M62.9 355.8h.8M65.8 359.5h.8M69.5 351.8h.8M62.7 341.6h.8M66.1 351.8h.8M70.1 353.5h.8M66.5 352.0h.8M68.4 351.4h.8M68.8 358.7h.8M64.6 355.3h.8M71.8 346.1h.8M68.5 351.8h.8M66.1 359.5h.8M68.2 360.6h.8M70.0 352.4h.8M69.7 351.8h.8M64.9 362.2h.8M69.9 360.7h.8M64.5 360.1h.8M71.1 353.8h.8M63.7 354.6h.8M67.3 352.9h.8M69.1 348.8h.8M68.7 354.1h.8M72.6 353.4h.8M74.9 347.1h.8M68.7 361.2h.8M65.1 357.6h.8M70.0 350.5h.8M68.4 363.0h.8M67.9 355.6h.8M70.1 361.0h.8M63.8 345.5h.8M65.6 352.4h.8M70.5 358.8h.8M68.3 362.8h.8M68.8 358.0h.8M67.1 358.8h.8M67.2 360.7h.8M71.2 364.8h.8M67.9 347.3h.8M71.1 355.8h.8M67.7 346.2h.8M71.0 342.7h.8M67.8 360.2h.8M68.4 356.7h.8M70.2 357.4h.8M71.6 357.8h.8M68.1 346.9h.8M68.3 350.2h.8M70.0 361.1h.8M71.0 350.0h.8M69.5 354.0h.8M67.8 361.5h.8M70.5 356.1h.8M65.9 338.8h.8M67.2 360.6h.8M68.5 353.9h.8M68.3 356.8h.8M69.0 363.9h.8M68.7 352.5h.8M72.6 358.4h.8M70.7 357.1h.8M68.9 355.8h.8M70.3 354.6h.8M64.3 362.0h.8M67.8 350.7h.8M68.1 349.8h.8M66.8 353.5h.8M71.2 352.3h.8M70.2 346.2h.8M70.9 347.4h.8M70.7 349.7h.8M67.5 346.7h.8M65.8 352.7h.8M66.6 352.7h.8M71.8 349.1h.8M68.2 353.4h.8M67.5 353.8h.8M69.6 360.0h.8M67.2 352.7h.8M68.6 361.1h.8M66.5 355.0h.8M70.9 357.4h.8M67.2 348.0h.8M64.4 350.9h.8M68.4 345.3h.8M71.1 354.9h.8M68.4 350.9h.8M70.2 352.3h.8M70.3 351.2h.8M71.6 344.6h.8M66.3 364.4h.8M71.6 363.5h.8M67.0 358.2h.8M71.5 359.3h.8M68.5 362.5h.8M70.0 346.5h.8M75.2 354.7h.8M72.1 350.0h.8M66.7 359.1h.8M71.1 349.7h.8M69.6 346.3h.8M63.9 360.3h.8M66.1 358.3h.8M71.7 356.1h.8M72.8 356.1h.8M69.7 354.0h.8M70.1 356.0h.8M66.7 353.7h.8M72.1 349.4h.8M70.5 343.8h.8M69.1 364.5h.8M69.2 361.4h.8M68.1 356.7h.8M69.9 341.3h.8M67.0 365.0h.8M66.9 361.0h.8M73.3 353.7h.8M71.5 356.1h.8M67.5 357.4h.8M70.1 348.3h.8M67.9 346.2h.8M68.2 353.8h.8M66.6 343.2h.8M70.7 361.3h.8M66.7 354.4h.8M67.3 338.7h.8M74.3 355.7h.8M65.5 361.4h.8M70.8 362.2h.8M70.8 357.1h.8M72.6 352.4h.8M69.6 347.7h.8M66.1 355.2h.8M69.6 344.8h.8M69.9 359.9h.8M65.9 352.0h.8M73.3 349.1h.8M70.4 358.6h.8M69.4 354.8h.8M70.4 355.7h.8M69.4 345.4h.8M69.6 349.4h.8M71.8 341.5h.8M71.5 354.7h.8M66.3 346.9h.8M71.6 350.2h.8M68.8 354.4h.8M71.4 338.5h.8M72.1 349.3h.8M68.0 357.6h.8M69.9 340.6h.8M70.5 353.1h.8M66.4 350.4h.8M65.0 358.5h.8M72.7 350.3h.8M67.8 345.5h.8M67.2 348.1h.8M69.1 364.1h.8M71.6 359.7h.8M66.6 358.8h.8M67.2 348.9h.8M70.8 353.4h.8M75.2 355.1h.8M68.2 358.3h.8M66.1 357.9h.8M72.9 353.2h.8M67.7 360.5h.8M66.2 356.2h.8M67.7 355.7h.8M67.0 357.5h.8M70.4 364.2h.8M68.1 356.6h.8M64.6 349.4h.8M69.7 346.1h.8M68.7 348.8h.8M70.2 357.5h.8M67.8 357.8h.8M67.6 354.7h.8M70.3 357.2h.8M70.5 363.8h.8M67.4 353.1h.8M64.4 359.1h.8M66.2 350.5h.8M67.7 356.4h.8M68.3 352.4h.8M69.2 352.1h.8M68.9 348.3h.8M67.6 346.9h.8M71.1 359.2h.8M70.7 355.9h.8M67.5 357.2h.8M65.1 339.5h.8M66.0 362.7h.8M69.6 363.0h.8M67.2 359.9h.8M73.0 359.7h.8M69.7 360.3h.8M67.9 364.2h.8M66.1 349.6h.8M69.1 349.6h.8M73.4 357.9h.8M67.2 363.7h.8M72.4 351.8h.8M72.9 360.9h.8M67.7 350.8h.8M69.8 360.7h.8M72.9 362.7h.8M67.8 343.6h.8M64.8 362.8h.8M71.6 360.9h.8M69.0 354.5h.8M70.2 356.7h.8M69.2 348.4h.8M65.6 354.9h.8M68.6 362.2h.8M66.3 342.5h.8M64.1 353.8h.8M73.2 352.0h.8M67.2 356.2h.8M72.9 360.3h.8M71.2 359.4h.8M68.3 354.5h.8M70.0 364.5h.8M63.5 350.8h.8M69.9 352.6h.8M68.7 352.5h.8M66.6 356.9h.8M72.2 351.9h.8M70.1 360.4h.8M67.4 353.5h.8M65.7 363.2h.8M73.3 352.8h.8M74.0 359.0h.8M64.4 356.8h.8M69.6 356.9h.8M70.7 351.4h.8M71.8 355.8h.8M73.7 353.3h.8M62.7 365.1h.8M70.4 343.3h.8M67.5 349.4h.8M71.3 350.3h.8M71.9 351.1h.8M71.4 350.5h.8M66.0 357.4h.8M68.4 357.0h.8M64.9 348.0h.8M68.1 365.4h.8M70.0 344.2h.8M61.1 364.8h.8M69.8 346.7h.8M71.5 359.0h.8M74.4 355.1h.8M67.8 358.8h.8M65.6 351.4h.8M66.5 350.7h.8M65.8 345.6h.8M66.2 356.3h.8M69.1 353.6h.8M70.2 358.4h.8M69.7 356.2h.8M67.8 360.3h.8M71.0 347.6h.8M69.9 354.5h.8M65.8 346.1h.8M65.9 351.6h.8M68.3 352.4h.8M68.9 356.4h.8M68.2 363.1h.8M68.9 358.0h.8M68.5 360.5h.8M68.8 349.1h.8M73.8 342.7h.8M69.4 351.9h.8M69.8 351.6h.8M66.8 356.0h.8M69.0 352.6h.8M67.3 362.8h.8M69.5 352.9h.8M65.9 349.5h.8M70.8 349.6h.8M70.6 353.4h.8M70.0 356.0h.8M67.9 352.5h.8M68.8 357.8h.8M75.0 359.1h.8M68.7 350.0h.8M69.3 353.7h.8M69.6 353.8h.8M68.9 361.3h.8M73.2 354.6h.8M73.0 359.4h.8M72.0 355.6h.8M69.5 358.6h.8M66.6 354.3h.8M66.2 359.3h.8M69.5 357.5h.8M68.2 349.5h.8M71.4 351.5h.8M68.5 354.2h.8M70.2 354.4h.8M66.4 347.9h.8M71.5 352.2h.8M68.4 348.9h.8M71.3 356.7h.8M67.6 344.0h.8M73.5 350.7h.8M66.1 351.1h.8M66.2 354.0h.8M67.6 347.1h.8M70.7 349.0h.8M64.4 356.0h.8M67.6 347.7h.8M64.8 349.9h.8M67.5 351.2h.8M67.7 361.3h.8M71.7 355.8h.8M70.4 351.4h.8M65.4 357.1h.8M72.4 350.0h.8M67.3 349.9h.8M65.7 357.2h.8M66.3 362.0h.8M73.2 354.5h.8M68.9 349.0h.8M71.3 354.5h.8M65.3 348.6h.8M70.2 351.1h.8M70.1 355.4h.8M72.6 353.4h.8M71.7 360.4h.8M72.3 352.0h.8M68.5 350.5h.8M69.3 347.2h.8M66.9 351.5h.8M68.3 359.8h.8M66.3 352.9h.8M69.7 352.3h.8M66.3 349.0h.8M67.7 350.8h.8M67.6 356.4h.8M68.8 342.1h.8M72.9 354.1h.8M68.0 360.4h.8M68.7 352.7h.8M66.8 359.3h.8M71.1 349.1h.8M67.6 361.2h.8M67.2 351.6h.8M67.1 352.6h.8M71.2 354.4h.8M71.5 357.5h.8M63.9 353.9h.8M68.9 344.4h.8M71.0 353.7h.8M67.7 357.0h.8M71.4 358.2h.8M67.7 353.8h.8M75.1 346.5h.8M69.2 354.2h.8M72.8 357.6h.8M69.6 352.3h.8M72.1 354.4h.8M68.8 355.0h.8M70.7 354.2h.8M69.6 358.6h.8M67.2 352.6h.8M69.2 358.0h.8M70.4 351.2h.8M66.4 351.8h.8M67.7 359.2h.8M70.6 354.4h.8M66.3 346.4h.8M69.3 357.5h.8M69.9 352.5h.8M70.4 342.6h.8M71.9 362.7h.8M69.4 355.4h.8M68.5 359.2h.8M66.7 350.7h.8M70.0 345.7h.8M70.2 356.7h.8M69.0 351.1h.8M73.4 350.9h.8M69.4 358.7h.8M69.0 360.1h.8M69.0 355.5h.8M69.0 357.8h.8M67.4 359.2h.8M71.6 348.0h.8M65.3 346.3h.8M67.0 358.0h.8M69.2 364.9h.8M72.9 345.1h.8M68.0 352.3h.8M73.0 358.5h.8M71.3 349.3h.8M74.1 347.6h.8M69.1 348.4h.8M66.8 355.5h.8M66.8 358.0h.8M70.3 354.3h.8M70.6 360.5h.8M71.7 347.4h.8M70.6 359.2h.8M68.1 351.8h.8M72.0 357.8h.8M69.3 362.3h.8M71.3 364.1h.8M68.0 359.7h.8M64.0 350.3h.8M73.2 348.4h.8M68.6 352.0h.8M70.2 360.6h.8M73.0 353.1h.8M69.8 359.1h.8M71.9 352.4h.8" stroke="#000" stroke-width="0.8" fill="none" opacity="0.7"/>
<rect x="151.8" y="278.6" width="90.6" height="87.7" class="bx"/>
<path d="M183.2 278.6 V366.3 M151.8 337.4 H242.4" class="bx"/>
<path d="M161.8 360.3h.7M166.2 343.4h.7M174.1 363.4h.7M171.9 356.9h.7M174.5 339.7h.7M170.9 363.3h.7M165.8 357.6h.7M159.4 359.0h.7M169.4 352.1h.7M167.4 355.7h.7M168.9 360.9h.7M174.5 338.4h.7M169.3 363.7h.7M159.5 353.7h.7M184.1 350.2h.7M174.5 356.9h.7M157.5 353.0h.7M154.8 352.3h.7M173.8 360.0h.7M169.6 350.9h.7M172.0 364.5h.7M172.9 362.7h.7M170.7 358.5h.7M160.2 348.2h.7M162.6 349.4h.7M176.8 353.4h.7M165.7 352.9h.7M167.5 365.3h.7M178.0 351.7h.7M179.5 359.7h.7M169.7 365.1h.7M168.4 357.6h.7M168.6 346.2h.7M158.9 347.6h.7M161.5 350.5h.7M163.7 363.6h.7M167.6 361.0h.7M169.9 348.4h.7M165.6 343.5h.7M155.5 357.9h.7M167.2 355.6h.7M174.3 344.5h.7M161.3 359.5h.7M156.7 344.8h.7M172.7 353.4h.7M171.6 355.5h.7M164.5 350.7h.7M170.4 353.9h.7M172.7 350.6h.7M173.1 351.6h.7M175.5 362.5h.7M169.9 349.6h.7M158.7 355.6h.7M168.3 349.0h.7M159.8 351.2h.7M159.9 349.8h.7M161.2 358.2h.7M164.2 354.5h.7M158.1 363.2h.7M166.3 352.1h.7M160.9 359.4h.7M170.6 350.0h.7M178.6 347.9h.7M175.6 356.1h.7M157.8 352.8h.7M171.1 351.6h.7M167.9 354.1h.7M170.2 349.8h.7M180.1 357.3h.7M177.6 352.9h.7M168.7 347.3h.7M169.5 349.3h.7M163.6 359.3h.7M169.0 355.1h.7M156.8 349.4h.7M162.6 339.7h.7M166.2 354.2h.7M173.3 359.8h.7M171.9 359.5h.7M177.7 352.4h.7M161.1 358.8h.7M174.4 358.6h.7M172.9 362.5h.7M170.4 347.8h.7M164.0 341.3h.7M173.9 350.8h.7M161.9 355.0h.7M161.8 340.9h.7M174.3 354.2h.7M167.0 360.9h.7M166.0 360.2h.7M176.2 349.7h.7M170.5 356.1h.7M168.2 360.0h.7M170.1 353.9h.7M158.9 355.0h.7M170.6 350.6h.7M164.9 363.5h.7M157.7 356.4h.7M168.5 348.0h.7M174.7 351.9h.7M174.7 356.4h.7M163.1 354.1h.7M174.4 347.8h.7M161.8 354.2h.7M171.3 359.6h.7M160.8 345.9h.7M166.8 353.2h.7M169.4 343.2h.7M164.0 346.4h.7M178.4 339.2h.7M161.1 350.9h.7M155.3 351.4h.7M162.1 343.0h.7M164.1 364.8h.7M168.3 365.1h.7M176.1 355.9h.7M153.4 356.5h.7M167.8 356.1h.7M161.4 352.7h.7M160.0 361.4h.7M168.0 339.6h.7M163.4 364.2h.7M160.2 346.4h.7M160.7 350.6h.7M168.0 353.6h.7M168.5 350.4h.7M171.8 365.5h.7M161.3 357.0h.7M169.5 356.2h.7M167.1 358.5h.7M166.0 350.1h.7M162.1 360.5h.7M163.9 341.3h.7M164.2 351.0h.7M173.3 362.5h.7M160.0 364.3h.7M163.9 359.9h.7M158.7 354.8h.7M168.3 353.4h.7M161.5 353.1h.7M167.8 362.9h.7M164.0 356.7h.7M167.3 355.6h.7M157.7 355.0h.7M170.7 357.7h.7M157.1 352.8h.7M165.9 353.8h.7M160.7 359.9h.7M158.5 363.6h.7M167.4 351.7h.7M156.9 357.6h.7M170.0 343.9h.7M178.9 353.2h.7M157.1 364.1h.7M160.3 348.2h.7M157.8 347.8h.7M165.5 346.7h.7M169.2 347.1h.7M163.6 354.2h.7M171.5 352.0h.7M168.0 357.3h.7M161.3 358.8h.7M169.3 350.7h.7M158.9 364.3h.7M174.6 356.2h.7M174.6 365.7h.7M166.3 359.1h.7M171.2 358.4h.7M166.5 351.3h.7M172.5 356.4h.7M178.4 358.3h.7M168.0 345.5h.7M166.5 356.9h.7M166.4 349.4h.7M159.5 358.6h.7M158.5 361.8h.7M165.7 354.7h.7M169.7 349.8h.7M162.8 362.1h.7M157.7 347.7h.7M172.6 360.2h.7M161.8 349.0h.7M177.3 352.5h.7M163.5 354.0h.7M155.3 356.8h.7M164.5 362.6h.7M161.8 357.1h.7M163.1 350.7h.7M179.3 348.0h.7M166.6 357.7h.7M180.2 357.1h.7M164.4 356.8h.7M179.2 359.0h.7M161.4 363.5h.7M161.7 364.3h.7M171.0 359.7h.7M169.3 356.9h.7M181.9 355.7h.7M166.5 359.5h.7M173.9 356.4h.7M174.5 359.7h.7M163.4 356.2h.7M174.4 348.2h.7M167.8 349.3h.7M165.6 343.2h.7M168.2 350.1h.7M174.8 352.3h.7M181.3 363.5h.7M168.2 357.9h.7M158.7 354.2h.7M162.9 345.2h.7M159.9 365.0h.7M163.6 354.6h.7M161.9 351.4h.7M163.6 353.7h.7M167.4 361.1h.7M166.7 353.6h.7M161.4 358.9h.7M170.0 352.2h.7M154.8 353.7h.7M152.8 365.6h.7M167.3 364.1h.7M165.6 360.9h.7M178.5 360.7h.7M160.0 342.8h.7M163.1 355.7h.7M158.8 339.7h.7M162.4 352.9h.7M153.9 352.8h.7M171.6 345.1h.7M167.4 353.0h.7M168.2 355.9h.7M159.8 357.8h.7M180.4 356.6h.7M156.6 351.3h.7M179.1 352.2h.7M167.3 344.0h.7M155.7 352.9h.7M168.7 348.6h.7M168.8 350.9h.7M156.2 356.3h.7M168.8 357.0h.7M167.4 365.4h.7M174.5 348.7h.7M160.7 353.9h.7M156.4 354.9h.7M171.8 349.7h.7M164.5 348.7h.7M167.5 357.6h.7M159.6 361.0h.7M159.9 354.5h.7M168.5 346.5h.7M164.3 345.8h.7M173.5 352.8h.7M156.3 359.7h.7M165.7 359.0h.7M158.9 352.2h.7M165.6 360.8h.7M175.8 354.9h.7M165.7 347.2h.7M162.0 353.0h.7M165.0 349.0h.7M160.0 360.5h.7M176.4 359.2h.7M178.1 354.6h.7M164.0 355.8h.7M158.5 352.5h.7M162.8 339.8h.7M167.1 358.6h.7M176.0 353.2h.7M174.7 348.1h.7M175.2 348.9h.7M166.0 344.1h.7M178.7 351.2h.7M174.7 353.7h.7M168.8 360.0h.7M158.9 357.7h.7M164.6 347.0h.7M174.5 353.3h.7M176.1 355.5h.7M164.6 350.2h.7M167.3 349.9h.7M173.8 350.2h.7M176.7 351.9h.7M166.7 349.8h.7M183.1 339.0h.7M172.9 363.2h.7M177.7 342.2h.7M168.3 347.4h.7M165.9 353.0h.7M174.5 361.1h.7M167.2 348.5h.7M169.6 355.2h.7M164.2 361.6h.7M176.4 348.4h.7M176.2 346.2h.7M163.9 342.5h.7M158.7 349.6h.7M159.9 355.2h.7M174.5 343.4h.7M165.1 354.3h.7M171.1 339.5h.7M160.7 358.3h.7M166.9 360.0h.7M160.2 353.2h.7M161.7 345.7h.7M160.7 357.4h.7M171.3 364.8h.7M162.3 342.8h.7M170.3 348.5h.7M158.2 351.9h.7M166.7 355.7h.7M165.5 338.5h.7M176.3 358.3h.7M159.5 361.7h.7M160.4 364.5h.7M169.2 361.1h.7M161.3 359.2h.7M153.0 364.3h.7M158.6 354.1h.7M173.5 361.9h.7M168.2 343.0h.7M176.6 352.2h.7M175.4 362.7h.7M170.5 360.1h.7M169.9 339.5h.7M162.3 351.3h.7M161.5 355.6h.7M167.0 360.2h.7M182.9 349.4h.7M167.4 342.6h.7M167.2 364.5h.7M171.8 344.0h.7M169.7 353.9h.7M164.2 361.5h.7M180.5 352.1h.7M160.8 343.8h.7M170.3 350.6h.7M153.5 339.1h.7M171.3 362.3h.7M163.8 356.0h.7M160.4 362.9h.7M165.9 354.5h.7M169.8 349.2h.7M177.1 357.4h.7M162.9 345.7h.7M168.7 355.9h.7M166.1 345.9h.7M176.4 355.7h.7M174.4 359.4h.7M166.2 349.6h.7M158.2 361.9h.7M165.9 365.7h.7M177.8 359.2h.7M168.1 363.2h.7M179.6 354.5h.7M160.9 360.4h.7M166.7 359.7h.7M174.4 354.3h.7M173.2 359.9h.7M168.9 356.4h.7M175.6 354.1h.7M165.2 351.4h.7M165.9 357.0h.7M168.0 354.2h.7M184.1 347.7h.7M169.3 361.0h.7M168.2 356.6h.7M159.1 356.5h.7M173.5 349.0h.7M170.9 362.3h.7M168.5 356.7h.7M157.4 364.5h.7M184.0 365.2h.7M162.5 351.3h.7M168.0 350.6h.7M154.4 352.9h.7M155.9 352.0h.7M171.2 360.7h.7M154.5 345.5h.7M171.6 359.3h.7M168.2 349.2h.7M164.0 358.0h.7M179.8 354.2h.7M172.1 350.5h.7M177.4 360.6h.7M163.9 350.4h.7M173.2 355.3h.7M177.1 350.2h.7M162.2 344.5h.7M159.4 347.5h.7M181.2 339.2h.7M162.3 358.5h.7M167.1 362.4h.7M172.4 350.8h.7M167.6 358.4h.7M163.9 357.1h.7M168.6 340.0h.7M160.9 359.8h.7M161.4 361.8h.7M159.0 340.1h.7M161.6 349.4h.7M170.4 350.2h.7M152.8 350.0h.7M174.5 341.7h.7M157.6 352.9h.7M168.5 349.3h.7M179.8 352.0h.7M158.1 355.8h.7M168.6 354.6h.7M177.9 358.5h.7M165.9 360.5h.7M173.0 357.0h.7M160.7 363.4h.7M171.1 345.3h.7M172.4 362.8h.7M172.1 352.5h.7M165.9 349.8h.7M164.7 364.2h.7M171.8 346.6h.7M170.8 364.5h.7M178.3 359.1h.7M161.6 352.5h.7M162.9 349.8h.7M158.2 355.5h.7M168.9 350.2h.7M180.8 351.6h.7M173.4 347.5h.7M162.5 343.3h.7M163.3 349.7h.7M169.4 338.4h.7M154.0 351.6h.7M162.6 361.5h.7M164.9 348.9h.7M170.5 341.6h.7M169.4 362.5h.7M173.7 348.7h.7M179.9 358.2h.7M170.7 362.9h.7M177.3 347.5h.7M167.5 353.6h.7M167.5 358.8h.7M172.3 354.3h.7M173.4 365.4h.7M169.7 342.9h.7M153.1 351.7h.7M165.9 353.7h.7M167.9 354.2h.7M176.7 354.6h.7M163.9 350.9h.7M171.8 349.4h.7M165.3 353.8h.7M161.3 341.8h.7M158.0 345.7h.7M159.4 350.8h.7M169.7 350.7h.7M157.6 363.7h.7M166.1 343.5h.7M164.2 350.8h.7M169.5 340.9h.7M168.3 362.5h.7M157.1 360.2h.7M170.7 356.8h.7M178.1 348.9h.7M163.9 357.6h.7M171.5 355.1h.7M169.7 352.9h.7M170.1 351.1h.7M169.1 349.7h.7M164.1 342.2h.7M162.3 354.3h.7M162.3 355.1h.7M175.1 353.4h.7M162.0 352.0h.7M153.7 361.6h.7M177.5 345.5h.7M173.3 355.6h.7M178.7 363.0h.7M169.1 359.9h.7M167.5 360.0h.7M168.6 349.1h.7M160.5 350.8h.7M165.3 346.3h.7M168.0 359.0h.7M170.2 350.3h.7M167.3 365.2h.7M173.8 352.6h.7M164.7 361.4h.7M159.7 350.4h.7M165.0 361.5h.7M155.4 359.2h.7M178.0 346.8h.7M165.5 361.5h.7M164.3 355.6h.7M163.0 358.2h.7M164.5 354.1h.7M165.7 345.0h.7M162.6 356.3h.7M174.2 360.6h.7M169.8 357.2h.7M163.0 363.4h.7M166.7 344.1h.7M167.4 358.1h.7M165.7 351.7h.7M169.7 344.4h.7M173.7 350.2h.7M157.8 357.8h.7M178.2 364.3h.7M158.6 348.4h.7M172.7 357.6h.7M171.1 360.6h.7M158.7 356.9h.7M161.2 358.8h.7M177.1 359.9h.7M162.8 355.4h.7M167.5 353.4h.7M174.0 348.6h.7M171.7 347.2h.7M172.9 361.6h.7M169.3 364.6h.7M178.2 355.7h.7M170.0 345.4h.7M161.3 364.4h.7M173.7 350.3h.7M169.3 349.5h.7M176.9 350.0h.7M177.5 355.0h.7M160.1 362.7h.7M172.3 359.7h.7M175.9 351.2h.7M157.0 354.4h.7M170.3 357.8h.7M162.1 359.1h.7M158.8 356.9h.7M172.5 358.2h.7M172.1 343.2h.7M166.0 353.2h.7M165.9 352.1h.7M168.9 360.7h.7M174.0 354.5h.7M166.3 358.3h.7M156.7 361.7h.7M163.4 361.8h.7M170.6 358.0h.7M177.7 364.3h.7M172.1 347.9h.7M161.2 351.6h.7M165.6 349.9h.7M160.9 365.1h.7M167.5 355.0h.7M153.5 356.4h.7M170.8 362.5h.7M154.0 349.4h.7M178.6 356.1h.7M177.1 361.0h.7M176.7 350.9h.7M173.1 355.9h.7M152.8 357.9h.7M162.7 357.4h.7M167.3 342.4h.7M177.2 353.9h.7M169.1 339.1h.7M168.2 357.0h.7M171.7 345.2h.7M176.7 344.1h.7M171.5 359.3h.7M172.8 347.0h.7M171.0 338.6h.7M172.8 355.6h.7M172.0 357.5h.7M169.1 363.8h.7M164.3 347.8h.7M172.2 358.2h.7M166.3 359.7h.7M171.5 355.9h.7M160.7 349.8h.7M157.8 348.9h.7M170.9 364.8h.7M163.3 357.8h.7M169.5 348.9h.7M174.8 339.0h.7M165.2 357.3h.7M172.3 352.3h.7M174.5 354.6h.7M159.8 355.0h.7M173.4 358.2h.7M174.4 359.7h.7M174.7 362.0h.7M171.6 345.3h.7M169.4 347.5h.7M171.2 345.0h.7M174.4 341.2h.7M160.3 340.3h.7M183.7 356.5h.7M159.2 355.8h.7M168.1 361.8h.7M161.3 352.5h.7M173.9 355.3h.7M176.9 361.7h.7M166.4 342.6h.7M156.6 343.8h.7M172.1 347.3h.7M176.4 352.8h.7M162.6 358.4h.7M161.1 348.1h.7M164.5 363.1h.7M155.2 362.7h.7M169.4 357.1h.7M158.7 354.7h.7M175.0 356.6h.7M170.7 358.7h.7M167.7 353.5h.7M169.7 363.6h.7M172.8 342.8h.7M159.2 354.1h.7M170.7 346.0h.7M169.1 346.9h.7M169.6 364.8h.7M163.8 346.9h.7M165.9 357.1h.7M164.9 356.2h.7M160.1 352.9h.7M173.5 358.1h.7M162.2 357.1h.7M173.1 353.1h.7M169.2 356.0h.7M174.3 358.2h.7M175.0 356.5h.7M172.3 352.2h.7M165.0 345.8h.7M170.9 362.4h.7M175.0 355.9h.7M170.3 357.3h.7M161.0 356.9h.7M169.1 359.1h.7M173.4 353.5h.7M175.4 356.4h.7M171.4 351.2h.7M174.8 354.5h.7M167.1 358.1h.7M165.7 364.4h.7M165.8 362.4h.7M166.1 346.0h.7M170.1 356.7h.7M170.3 351.3h.7M159.1 362.4h.7M175.9 353.6h.7M167.4 344.3h.7M170.0 346.7h.7M169.3 364.5h.7M164.6 351.9h.7M161.0 350.4h.7M161.6 361.1h.7M163.1 360.5h.7M173.6 354.4h.7M166.9 355.1h.7M156.9 354.7h.7M176.7 348.9h.7M180.8 350.2h.7M170.2 365.5h.7M177.4 356.5h.7M176.7 347.8h.7M174.4 348.3h.7M168.3 349.4h.7M166.9 358.3h.7M175.7 364.9h.7M177.1 363.1h.7M169.5 354.5h.7M158.3 349.7h.7M166.0 355.4h.7M156.6 355.1h.7M163.4 354.4h.7M166.0 354.5h.7M170.3 361.3h.7M160.8 355.9h.7M170.8 357.7h.7M167.4 348.2h.7M176.2 343.5h.7M157.6 354.7h.7M159.0 363.8h.7M177.2 353.1h.7M179.2 355.5h.7M172.3 353.3h.7M165.3 352.2h.7M171.4 357.6h.7M169.8 358.7h.7M161.0 349.1h.7M171.0 344.3h.7M173.8 353.9h.7M161.9 360.9h.7M164.7 357.3h.7M161.0 364.7h.7M172.7 346.9h.7M176.2 358.7h.7M161.8 346.2h.7M167.4 357.7h.7M162.2 354.0h.7M173.8 341.4h.7M178.4 360.3h.7M160.4 357.5h.7M154.0 359.0h.7M181.4 365.2h.7M174.0 351.0h.7M179.9 352.8h.7M164.0 346.2h.7M165.5 345.1h.7M168.8 349.5h.7M162.6 357.8h.7M178.5 355.1h.7M163.4 351.4h.7M171.8 343.5h.7M168.3 344.8h.7M164.1 365.7h.7M167.1 364.6h.7M170.7 346.5h.7M176.0 344.0h.7M160.7 356.8h.7M166.2 363.6h.7M178.8 362.5h.7M167.6 358.1h.7M171.7 360.5h.7M162.7 364.4h.7M164.9 359.6h.7M159.3 356.4h.7M160.7 354.4h.7M160.6 364.4h.7M157.5 360.1h.7M157.5 363.5h.7M178.5 354.3h.7M167.4 352.5h.7M163.3 344.1h.7M174.3 339.4h.7M163.7 357.6h.7M167.8 356.2h.7M161.7 361.9h.7M175.6 364.7h.7M164.0 360.0h.7M171.7 344.0h.7M157.6 349.5h.7M174.8 364.2h.7M158.7 350.2h.7M164.0 362.6h.7M174.0 359.7h.7M158.6 356.6h.7M157.9 355.5h.7M173.0 364.4h.7M167.1 341.4h.7M170.0 360.3h.7M164.8 344.6h.7M162.4 357.1h.7M162.7 356.1h.7M165.9 345.0h.7M181.4 365.7h.7M176.6 344.5h.7M167.1 351.9h.7M164.2 363.2h.7M163.6 351.8h.7M173.6 349.0h.7M165.2 339.1h.7M167.3 360.1h.7M164.4 353.1h.7M169.3 355.4h.7M170.2 340.4h.7M161.6 360.8h.7M162.1 352.1h.7M163.9 361.5h.7M164.3 353.7h.7M176.9 362.4h.7M153.7 356.7h.7M165.7 344.9h.7M167.2 365.6h.7M156.1 357.5h.7M164.1 358.4h.7M156.2 359.3h.7M166.8 354.0h.7M164.9 354.4h.7M156.6 349.2h.7M170.4 352.9h.7M166.7 351.4h.7M161.9 347.6h.7M171.8 355.6h.7M157.9 360.9h.7M173.1 354.5h.7M158.4 357.9h.7M174.4 344.6h.7M161.5 358.1h.7M164.1 345.2h.7M163.4 347.3h.7M166.9 349.4h.7M170.1 347.7h.7M165.5 356.2h.7M171.8 346.2h.7M163.4 349.8h.7M175.5 358.6h.7M162.9 354.6h.7M168.2 353.2h.7M177.1 341.5h.7M173.6 352.3h.7M155.7 360.7h.7M179.5 360.3h.7M177.3 355.8h.7M174.9 357.4h.7M165.3 345.7h.7M164.0 359.6h.7M172.3 358.5h.7M168.7 360.5h.7M170.9 358.4h.7M164.8 357.0h.7M166.6 348.6h.7M169.0 345.2h.7M165.3 342.6h.7M160.9 364.1h.7M180.7 358.6h.7M165.1 358.8h.7M167.0 350.1h.7M172.0 350.1h.7M169.3 352.7h.7M177.5 360.7h.7M160.4 361.2h.7M169.8 360.2h.7M175.5 346.3h.7M169.7 357.1h.7M171.1 358.2h.7M165.8 364.3h.7M174.7 359.3h.7M158.9 345.2h.7M157.7 356.6h.7M170.8 360.2h.7M168.5 353.7h.7M171.5 352.6h.7M175.4 354.8h.7M176.3 365.3h.7M177.0 365.5h.7M166.7 357.0h.7M177.2 348.5h.7M163.5 348.1h.7M165.2 362.1h.7M171.0 356.9h.7M172.3 351.7h.7M171.2 353.7h.7M165.7 351.8h.7M166.6 343.3h.7M160.4 342.6h.7M152.8 355.5h.7M165.7 342.9h.7M169.9 354.2h.7M157.4 359.0h.7M172.0 341.8h.7M164.3 363.0h.7M168.4 355.9h.7M168.7 353.4h.7M173.3 358.7h.7M183.2 356.1h.7M170.2 355.5h.7M160.5 355.0h.7M167.5 339.5h.7M184.0 357.4h.7M173.6 358.1h.7M167.7 359.7h.7M178.6 361.6h.7M164.6 361.4h.7M172.9 350.1h.7M169.7 358.4h.7M165.9 357.1h.7M164.0 348.7h.7M164.3 347.5h.7M167.4 344.7h.7M174.0 363.6h.7M156.7 352.5h.7M177.2 359.2h.7M179.5 350.7h.7M165.0 350.7h.7M160.2 346.5h.7M166.9 357.8h.7M165.9 349.3h.7M155.6 364.7h.7M174.6 351.8h.7M161.9 355.5h.7M160.8 340.5h.7M156.8 355.1h.7M166.2 344.1h.7M172.1 356.6h.7M175.5 362.5h.7M168.9 357.9h.7M173.5 355.5h.7M170.0 348.3h.7M161.7 354.2h.7M176.4 355.1h.7M173.2 352.6h.7M157.5 355.7h.7M166.4 359.9h.7M167.8 354.5h.7M168.4 363.8h.7M169.4 355.9h.7M176.2 344.9h.7M172.6 343.7h.7M159.9 364.3h.7M163.9 360.9h.7M167.6 355.3h.7M171.0 342.2h.7M171.5 348.3h.7M164.6 345.0h.7M166.5 363.4h.7M177.5 364.2h.7M167.0 352.8h.7M164.4 343.3h.7M175.6 354.5h.7M167.1 355.5h.7M168.6 342.6h.7M168.1 357.8h.7M157.3 362.9h.7M163.4 364.4h.7M165.8 350.5h.7M164.0 352.9h.7M170.0 346.6h.7M173.5 350.1h.7M161.4 359.9h.7M156.1 359.9h.7M167.1 356.3h.7M165.1 351.4h.7M171.2 360.8h.7M162.5 355.9h.7M172.6 351.5h.7M172.4 351.8h.7M180.8 356.3h.7M166.0 356.2h.7M158.5 345.8h.7M158.8 361.8h.7M173.1 354.7h.7M176.2 361.5h.7M156.1 352.3h.7M156.6 353.5h.7M178.6 364.5h.7M157.0 352.8h.7M168.1 345.9h.7M174.8 345.7h.7M167.4 358.4h.7M165.2 338.5h.7M164.3 360.9h.7M165.4 352.9h.7M159.4 355.1h.7M170.5 365.6h.7M160.8 351.7h.7M164.8 352.5h.7M173.0 351.1h.7M170.1 342.5h.7M178.0 352.3h.7M175.8 358.8h.7M158.9 356.1h.7M165.0 340.8h.7M175.1 355.2h.7M162.5 356.2h.7M169.0 354.1h.7M166.6 356.5h.7M164.5 356.5h.7M175.6 352.2h.7M158.7 354.0h.7M177.9 343.7h.7M175.1 338.7h.7M163.6 358.0h.7M165.6 346.0h.7M167.4 364.4h.7M159.9 360.8h.7M168.5 341.8h.7M166.2 362.2h.7M172.5 354.3h.7M161.8 361.9h.7M175.1 362.2h.7M164.7 350.6h.7M170.9 353.6h.7M165.0 339.6h.7M167.4 360.0h.7M175.1 353.3h.7M164.1 346.2h.7M166.2 354.2h.7M170.2 356.3h.7M169.3 352.7h.7M164.9 358.0h.7M160.7 346.3h.7M171.1 342.9h.7M168.0 350.0h.7M155.5 360.8h.7M161.7 353.1h.7M169.6 353.7h.7M160.1 344.7h.7M168.7 352.6h.7M162.9 350.6h.7M166.4 352.9h.7M159.5 356.7h.7M166.7 361.2h.7M166.7 344.9h.7M161.7 360.6h.7M160.8 347.6h.7M160.6 338.6h.7M171.3 354.4h.7M158.4 356.2h.7M171.4 359.3h.7M170.6 362.0h.7M166.0 357.7h.7M164.0 342.6h.7M168.1 359.5h.7M175.6 363.1h.7M172.6 353.0h.7M168.7 365.2h.7M170.1 350.7h.7M174.3 358.0h.7M164.5 357.3h.7M168.3 352.3h.7M164.5 349.9h.7M172.7 359.9h.7M162.3 359.4h.7M162.2 348.5h.7M165.7 359.7h.7M156.4 346.3h.7M170.4 350.1h.7M164.6 348.6h.7M165.9 352.8h.7M168.2 347.0h.7M167.4 338.9h.7M172.3 353.5h.7M159.6 342.1h.7M177.4 358.0h.7M164.6 363.3h.7M170.7 362.0h.7M171.9 351.1h.7M164.3 357.2h.7M164.3 358.8h.7M163.0 361.3h.7M157.9 353.1h.7M166.5 354.0h.7M174.1 346.6h.7M165.1 348.6h.7M172.5 356.1h.7M173.9 351.9h.7M161.7 355.8h.7M176.3 356.3h.7M178.6 361.8h.7M164.4 353.3h.7M167.9 357.5h.7M170.5 360.5h.7M162.3 360.2h.7M183.2 361.0h.7M171.7 365.6h.7M172.1 349.1h.7M167.4 348.9h.7M166.3 350.4h.7M176.7 340.6h.7M166.3 360.8h.7M166.1 348.3h.7M161.8 350.4h.7M176.3 350.4h.7M173.4 348.2h.7M156.2 348.7h.7M174.4 344.7h.7M158.4 359.4h.7M167.1 349.8h.7M174.6 362.3h.7M178.1 356.1h.7M168.8 355.4h.7M170.6 361.3h.7M174.1 362.5h.7M173.9 347.0h.7M174.6 353.7h.7M176.8 352.6h.7M169.3 355.0h.7M164.3 350.4h.7M167.9 353.1h.7M164.0 361.0h.7M168.9 347.0h.7M169.8 358.2h.7M170.2 362.2h.7M167.2 354.9h.7M176.8 353.1h.7M166.7 365.6h.7M171.4 354.9h.7M172.3 357.6h.7M153.9 346.8h.7M164.3 354.1h.7M165.2 350.5h.7M159.2 349.5h.7M163.7 349.6h.7M160.4 352.4h.7M167.2 350.7h.7M162.7 357.8h.7M167.4 361.8h.7M161.3 348.6h.7M171.0 362.7h.7M168.1 360.4h.7M160.5 364.0h.7M162.6 356.9h.7M172.0 355.9h.7M159.4 348.5h.7M168.3 361.6h.7M166.0 351.8h.7M161.0 349.0h.7M165.6 364.7h.7M172.8 361.5h.7M164.6 358.7h.7M154.2 363.3h.7M171.9 347.1h.7M171.3 343.5h.7M162.6 355.5h.7M165.8 362.6h.7M174.7 361.5h.7M157.1 355.2h.7M182.5 358.4h.7M162.7 346.8h.7M170.6 363.4h.7M168.4 365.3h.7M181.0 363.2h.7M177.3 350.0h.7M172.2 358.4h.7M172.2 361.0h.7M169.2 352.8h.7M173.1 359.1h.7M162.6 355.1h.7M155.4 359.2h.7M160.6 356.7h.7M165.7 343.2h.7M154.6 360.2h.7M167.7 342.6h.7M163.4 353.1h.7M166.5 342.2h.7M160.4 348.2h.7M157.1 351.7h.7M167.2 363.7h.7M180.8 346.2h.7M167.1 354.0h.7M165.2 355.8h.7M175.5 348.1h.7M167.2 344.5h.7M173.6 361.8h.7M169.3 350.2h.7M167.6 351.0h.7M166.5 363.5h.7M173.8 357.5h.7M159.0 353.9h.7M177.4 346.8h.7M156.0 349.2h.7M173.4 359.6h.7M162.9 362.6h.7M169.5 353.3h.7M166.5 358.7h.7M167.7 345.9h.7M158.4 353.7h.7M170.6 364.5h.7M157.5 345.8h.7M169.0 363.8h.7M164.7 355.3h.7M168.6 349.9h.7M166.8 349.1h.7M172.3 357.7h.7M167.1 349.1h.7M167.7 362.8h.7M163.1 340.7h.7M164.6 351.3h.7M165.3 355.3h.7M160.8 344.8h.7M168.1 356.8h.7M161.4 343.1h.7M168.8 354.3h.7M176.5 346.8h.7M168.1 357.3h.7M168.7 353.0h.7M161.5 357.8h.7M163.9 353.2h.7M156.6 351.3h.7M165.5 356.8h.7M162.6 350.9h.7M172.8 352.2h.7M171.2 363.2h.7M165.5 357.0h.7M162.8 351.2h.7M170.9 353.1h.7M173.9 361.1h.7M162.6 338.7h.7M155.7 355.4h.7M160.5 359.8h.7M167.7 352.9h.7M165.4 346.3h.7M167.8 346.2h.7M178.0 357.2h.7M177.0 356.3h.7M174.0 348.7h.7M158.6 362.8h.7M182.4 357.8h.7M181.8 358.9h.7M159.7 359.4h.7M171.4 354.1h.7M163.7 354.0h.7M167.9 352.3h.7M165.1 359.8h.7M167.1 349.8h.7M177.1 345.9h.7M175.6 346.0h.7M166.6 348.5h.7M167.9 361.7h.7M180.1 354.3h.7M169.9 360.0h.7M163.2 347.5h.7M167.3 359.1h.7M167.2 361.8h.7M167.0 361.6h.7M158.4 346.1h.7M162.0 351.7h.7M168.8 357.6h.7M172.2 354.8h.7M163.0 349.8h.7M176.1 361.5h.7M165.8 353.9h.7M158.6 340.8h.7M162.3 361.2h.7M178.3 351.7h.7M172.5 348.3h.7M169.1 348.4h.7M170.3 360.7h.7M167.5 361.1h.7M170.2 353.9h.7M167.7 348.6h.7M158.9 349.2h.7M168.6 352.5h.7M165.7 358.0h.7M174.3 346.0h.7M172.7 346.9h.7M174.8 358.7h.7M177.2 339.8h.7M168.8 353.2h.7M174.4 350.2h.7M165.6 352.3h.7M178.7 353.6h.7M155.3 349.6h.7M162.9 360.0h.7M166.6 359.1h.7M167.6 344.9h.7M160.6 343.6h.7M160.2 358.4h.7M162.1 354.6h.7M176.9 347.2h.7M166.7 360.6h.7M170.9 350.3h.7M162.9 357.1h.7M163.7 355.4h.7M166.3 358.2h.7M160.8 347.1h.7M184.0 350.9h.7M166.9 351.1h.7M155.5 364.5h.7M165.8 353.3h.7M174.6 359.6h.7M178.2 347.7h.7M173.1 353.6h.7M152.6 360.8h.7M164.9 349.0h.7M169.4 354.4h.7M182.8 350.2h.7M164.6 352.4h.7M168.1 357.4h.7M165.0 354.9h.7M171.3 346.8h.7M172.1 350.3h.7M159.2 356.8h.7M170.8 355.5h.7M164.2 351.5h.7M175.0 344.4h.7M167.8 364.7h.7M166.4 350.6h.7M166.7 353.0h.7M177.0 355.4h.7M158.9 360.4h.7M157.8 363.6h.7M171.6 350.7h.7M169.8 362.4h.7M163.5 356.8h.7M172.2 340.0h.7M180.4 347.6h.7M165.1 362.2h.7M172.1 349.7h.7M166.1 353.8h.7M176.6 357.8h.7M166.3 362.3h.7M172.1 340.5h.7M165.6 358.4h.7M162.7 355.7h.7M180.0 346.6h.7M169.0 358.3h.7M160.9 357.1h.7M167.7 349.9h.7M169.1 342.6h.7M167.0 356.8h.7M165.8 361.5h.7M168.9 355.5h.7M167.5 354.7h.7M168.9 354.9h.7M163.2 363.9h.7M171.0 351.5h.7M166.1 351.4h.7M167.6 351.0h.7M157.6 359.5h.7M171.2 356.0h.7M161.3 346.2h.7M164.1 348.4h.7M160.2 363.4h.7M161.2 355.3h.7M169.4 348.4h.7M162.5 361.8h.7M178.0 358.6h.7M173.4 343.5h.7M171.9 357.1h.7M180.0 355.2h.7M157.3 338.5h.7M177.6 363.9h.7M161.6 364.4h.7M172.9 353.8h.7M166.7 351.4h.7M174.4 356.6h.7M175.0 364.9h.7M162.7 352.9h.7M173.5 360.6h.7M172.9 345.2h.7M172.3 348.4h.7M170.5 349.2h.7M174.3 354.7h.7M176.5 345.1h.7M162.1 350.7h.7M168.1 363.1h.7M174.4 346.6h.7M163.8 348.6h.7M169.5 357.8h.7M171.5 355.0h.7M161.6 351.5h.7M169.4 345.4h.7M165.6 354.1h.7M165.0 360.6h.7M162.6 355.9h.7M181.0 356.3h.7M160.6 357.1h.7M167.8 358.0h.7M176.5 345.9h.7M179.5 343.2h.7M161.1 353.2h.7M159.6 361.6h.7M168.9 362.6h.7M174.6 356.2h.7M173.6 360.7h.7M177.9 353.2h.7M165.8 358.0h.7M175.9 361.6h.7M165.0 338.6h.7M168.6 345.7h.7M170.0 348.0h.7M169.7 356.6h.7M172.6 360.3h.7M153.0 359.7h.7M168.5 357.2h.7M160.6 352.2h.7M158.0 343.6h.7M165.6 343.7h.7M179.0 357.7h.7M180.8 359.8h.7M165.1 361.2h.7M170.7 354.9h.7M164.9 354.7h.7M171.4 359.3h.7M179.9 354.4h.7M183.2 355.3h.7M166.6 354.8h.7M162.4 350.2h.7M171.6 359.9h.7M156.3 353.2h.7M166.6 355.9h.7M174.1 354.4h.7M173.2 363.3h.7M168.0 348.0h.7M165.5 365.4h.7M164.8 345.7h.7M162.0 343.1h.7M168.7 345.7h.7M172.9 358.0h.7M160.4 348.4h.7M182.5 359.7h.7M163.9 352.6h.7M169.1 360.8h.7M174.2 357.5h.7M164.5 354.8h.7M161.7 364.4h.7M171.3 342.4h.7M173.9 357.5h.7M164.7 360.5h.7M176.5 353.1h.7M164.1 350.3h.7M161.5 342.2h.7M165.4 353.8h.7M171.3 353.7h.7M168.9 362.6h.7M160.9 347.6h.7M156.6 355.0h.7M171.7 357.3h.7M162.5 354.8h.7M166.1 348.2h.7M168.8 350.6h.7M179.6 356.9h.7M161.4 350.1h.7M178.9 360.2h.7M177.1 356.3h.7M162.0 364.1h.7M174.8 359.7h.7M165.6 356.1h.7M172.4 355.4h.7M165.8 354.4h.7M170.6 357.7h.7M153.1 345.5h.7M170.6 363.3h.7M170.8 358.9h.7M172.2 365.0h.7M166.2 352.5h.7M174.1 352.9h.7M155.3 356.9h.7M167.9 352.3h.7M158.8 345.2h.7M168.3 353.5h.7M160.2 353.3h.7M170.1 353.7h.7M163.8 362.3h.7M162.4 353.5h.7M173.3 352.2h.7M161.5 350.9h.7M174.7 350.8h.7M164.2 344.8h.7M169.7 354.6h.7M153.5 353.3h.7M165.8 356.3h.7M160.3 361.7h.7M171.7 353.6h.7M168.2 361.4h.7M170.4 362.3h.7M172.4 347.9h.7M163.2 356.1h.7M168.1 350.6h.7M166.2 352.9h.7M156.5 350.4h.7M166.7 362.2h.7M165.8 342.4h.7M168.6 346.8h.7M175.4 351.5h.7M164.5 357.2h.7M167.1 346.5h.7M164.8 362.1h.7M164.7 339.0h.7M173.5 351.6h.7M173.0 340.8h.7M167.2 363.0h.7M162.5 353.3h.7M175.2 359.0h.7M167.1 365.0h.7M164.4 363.6h.7M170.4 353.2h.7M167.0 356.6h.7M158.4 343.7h.7M168.7 358.8h.7M160.4 345.1h.7M174.8 346.7h.7M170.6 362.3h.7M156.4 350.9h.7M176.8 340.6h.7M176.6 349.9h.7M163.2 348.4h.7M165.6 347.8h.7M172.1 351.0h.7M161.2 353.9h.7M157.2 353.6h.7M167.3 363.6h.7M157.5 351.1h.7M158.3 347.9h.7M173.4 360.2h.7M153.8 355.1h.7M164.4 350.9h.7M167.4 359.1h.7M169.2 360.8h.7M164.3 347.9h.7M173.6 348.8h.7M170.6 344.2h.7M173.0 351.0h.7M162.9 348.5h.7M169.8 350.1h.7M170.1 364.8h.7M169.8 347.5h.7M176.8 355.2h.7M175.1 348.6h.7M173.7 355.8h.7M173.3 354.8h.7M166.0 350.8h.7M162.3 347.9h.7M169.5 363.7h.7M168.2 358.5h.7M183.7 362.8h.7M170.7 358.2h.7M166.2 345.3h.7M155.8 358.7h.7M179.9 351.8h.7M178.9 352.1h.7M153.1 363.2h.7M169.4 342.2h.7M161.5 356.8h.7M170.5 348.8h.7M171.0 358.8h.7M167.2 352.6h.7M176.9 360.8h.7M164.8 355.9h.7M173.4 360.5h.7M168.8 352.1h.7M167.9 354.8h.7M173.2 353.2h.7M160.3 359.3h.7M162.8 358.6h.7M159.5 356.8h.7M161.2 351.9h.7M171.4 364.6h.7M170.9 355.8h.7M163.1 363.1h.7M182.5 364.1h.7M165.8 346.3h.7M161.7 352.1h.7M182.4 357.4h.7M164.0 358.6h.7M172.2 363.5h.7M176.4 357.9h.7M161.2 357.5h.7M174.2 350.2h.7M156.7 361.4h.7M171.3 352.9h.7M163.9 342.4h.7M184.5 352.3h.7M163.6 352.2h.7M165.1 347.8h.7M162.8 348.2h.7M158.8 357.0h.7M166.6 347.0h.7M167.5 353.6h.7M176.1 360.6h.7M157.2 360.0h.7M163.0 347.3h.7M168.8 350.0h.7M162.1 355.5h.7M170.0 346.2h.7M172.4 355.4h.7M170.8 359.3h.7M179.5 351.2h.7M164.4 354.2h.7M168.9 365.6h.7M169.4 342.6h.7M154.7 345.1h.7M164.7 355.2h.7M165.7 360.4h.7M177.4 345.3h.7M164.5 349.6h.7M169.6 350.7h.7M172.4 349.9h.7M166.3 362.9h.7M172.4 343.9h.7M168.6 353.8h.7M174.5 354.1h.7M178.7 351.8h.7M159.6 354.9h.7M177.9 344.0h.7M177.8 354.5h.7M171.1 361.2h.7M166.7 355.1h.7M162.4 351.6h.7M172.5 351.5h.7M172.2 345.2h.7M159.9 356.9h.7M161.8 354.0h.7M170.8 352.5h.7M165.9 353.9h.7M172.3 352.0h.7M172.7 359.4h.7M173.3 357.1h.7M178.1 363.9h.7M169.1 362.3h.7M169.1 352.6h.7M166.9 353.3h.7M170.5 351.8h.7M170.9 349.1h.7M164.5 343.1h.7M163.7 358.1h.7M158.2 355.4h.7M169.9 356.1h.7M168.0 352.6h.7M169.1 359.8h.7M167.6 353.8h.7M166.2 352.0h.7M170.8 362.4h.7M161.3 348.9h.7M169.5 363.4h.7M167.3 339.1h.7M167.3 360.2h.7M168.6 353.0h.7M156.8 360.9h.7M169.4 340.9h.7M170.5 355.1h.7M162.2 354.5h.7M160.2 346.3h.7M166.3 355.6h.7M160.6 361.4h.7M163.4 355.0h.7M163.6 346.5h.7M161.2 348.0h.7M165.1 355.9h.7M157.3 360.6h.7M169.4 363.4h.7M161.0 360.7h.7M164.0 340.4h.7M166.0 355.4h.7M180.1 344.6h.7M167.8 347.0h.7M181.8 354.1h.7M173.9 351.6h.7M164.1 351.9h.7M169.2 363.4h.7M166.2 358.7h.7M181.7 355.7h.7M172.8 358.9h.7M173.2 359.4h.7M166.7 348.9h.7M165.3 354.9h.7M182.0 342.2h.7M162.9 352.7h.7M160.2 357.5h.7M170.5 355.6h.7M176.5 362.0h.7M172.0 349.0h.7M165.7 357.8h.7M157.0 355.3h.7M172.7 353.3h.7M175.6 348.1h.7M161.2 359.3h.7M166.8 356.4h.7M162.5 350.8h.7M163.0 346.7h.7M157.7 355.4h.7M171.1 355.1h.7M157.8 351.1h.7M172.3 362.9h.7M159.8 343.2h.7M170.9 341.5h.7M171.4 352.7h.7M174.5 358.7h.7M165.7 361.1h.7M172.2 364.3h.7M167.7 355.1h.7M173.4 352.9h.7M165.5 351.6h.7M170.5 363.1h.7M159.2 357.5h.7M162.6 351.9h.7M172.0 355.3h.7M178.7 349.7h.7M176.8 363.6h.7M165.6 348.5h.7M162.9 351.5h.7M168.2 354.1h.7M173.0 361.7h.7M158.8 353.6h.7M166.1 346.6h.7M173.3 359.6h.7M154.2 356.5h.7M166.0 355.2h.7M165.4 363.7h.7M169.8 348.3h.7M164.8 350.5h.7M159.5 356.3h.7M169.8 356.6h.7M170.9 355.7h.7M163.7 346.0h.7M159.1 344.4h.7M168.9 354.0h.7M167.3 351.1h.7M169.2 349.6h.7M160.1 344.7h.7M174.8 344.5h.7M175.5 347.2h.7M166.0 348.1h.7M168.0 363.0h.7M168.5 358.4h.7M163.0 352.9h.7M168.2 351.0h.7M176.4 360.5h.7M169.9 353.6h.7M170.4 346.4h.7M160.5 342.7h.7M169.2 356.4h.7M170.9 353.1h.7M163.9 348.4h.7M168.9 358.0h.7M161.3 359.8h.7M174.2 361.1h.7M167.4 354.0h.7M174.0 345.7h.7M160.0 357.6h.7M164.5 357.8h.7M155.4 343.5h.7M164.0 350.6h.7M162.1 354.1h.7M176.6 356.7h.7M173.0 340.6h.7M169.8 357.1h.7M160.2 354.3h.7M168.1 351.9h.7M168.5 348.2h.7M162.6 349.2h.7M168.9 360.0h.7M165.2 360.8h.7M160.7 349.1h.7M157.3 357.8h.7M177.4 355.2h.7M160.8 349.6h.7M174.3 364.0h.7M173.8 354.5h.7M163.8 347.8h.7M173.4 359.2h.7M165.6 360.3h.7M158.8 364.0h.7M171.3 354.6h.7M160.5 349.3h.7M169.6 346.1h.7M178.9 358.2h.7M161.2 344.8h.7M170.0 360.7h.7M159.4 356.7h.7M157.9 363.7h.7M170.9 349.9h.7M163.2 347.6h.7M163.7 354.2h.7M180.7 348.9h.7M173.5 358.7h.7M160.6 343.0h.7M173.1 350.1h.7M179.1 361.2h.7M165.5 354.0h.7M156.9 361.8h.7M160.9 346.4h.7M179.3 352.1h.7M171.9 347.8h.7M165.7 343.7h.7M181.4 350.6h.7M169.9 350.2h.7M166.4 363.3h.7M164.0 343.2h.7M164.0 355.2h.7M177.6 352.7h.7M173.8 353.3h.7M165.4 348.7h.7M169.3 352.3h.7M168.0 355.9h.7M177.8 340.4h.7M173.2 350.5h.7M162.1 351.6h.7M168.3 339.8h.7M159.8 357.8h.7M159.5 351.0h.7M159.4 358.2h.7M162.1 360.2h.7M159.0 361.4h.7M164.3 358.8h.7M176.7 350.1h.7M172.1 346.3h.7M168.2 358.3h.7M170.1 351.4h.7M171.2 346.9h.7M163.7 361.6h.7M177.6 340.8h.7M162.6 364.9h.7M162.1 363.7h.7M175.2 357.5h.7M159.7 364.5h.7M169.9 357.1h.7M157.9 360.6h.7M175.0 360.5h.7M159.8 364.4h.7M171.0 354.2h.7M174.7 349.6h.7M166.4 349.5h.7M154.8 347.7h.7M176.2 349.3h.7M161.7 363.2h.7M159.4 353.4h.7M169.8 362.2h.7M171.3 351.0h.7M175.9 347.0h.7M172.2 363.2h.7M158.4 357.5h.7M171.0 352.9h.7M181.4 342.3h.7M165.5 360.5h.7M160.0 355.6h.7M178.3 353.0h.7M159.4 341.2h.7M174.4 352.1h.7M163.0 361.6h.7M170.9 355.7h.7M177.1 351.1h.7M155.1 342.1h.7M168.0 360.8h.7M162.4 359.3h.7M160.3 362.3h.7M166.1 355.6h.7M163.9 345.1h.7M164.4 364.7h.7M166.4 355.5h.7M166.0 358.1h.7M180.0 351.6h.7M167.9 356.8h.7M173.6 353.4h.7M172.3 356.5h.7M170.4 352.6h.7M164.3 357.4h.7M156.9 338.3h.7M168.4 342.6h.7M174.6 356.3h.7M168.0 340.2h.7M167.3 358.3h.7M169.5 349.6h.7M164.2 341.3h.7M166.3 353.1h.7M167.8 360.1h.7M154.8 362.3h.7M167.1 356.2h.7M177.3 354.4h.7M173.1 344.4h.7M165.7 346.1h.7M161.5 351.2h.7M166.0 350.0h.7M168.1 346.3h.7M156.2 354.2h.7M157.8 346.7h.7M158.9 345.9h.7M163.3 363.4h.7M173.8 355.0h.7M170.3 354.0h.7M167.2 355.9h.7M167.1 343.5h.7M159.4 354.8h.7M177.3 350.9h.7M170.3 346.9h.7M161.1 363.3h.7M161.2 352.0h.7M164.5 358.2h.7M163.8 365.4h.7M170.1 351.8h.7M170.3 352.4h.7M165.6 345.3h.7M164.0 351.9h.7M175.1 364.7h.7M171.9 357.7h.7M171.9 360.9h.7M169.5 359.4h.7M164.5 349.3h.7M172.9 364.0h.7M167.0 356.0h.7M168.1 355.8h.7M165.5 353.6h.7M171.0 354.4h.7M161.5 351.6h.7M170.0 353.4h.7M164.9 354.7h.7M165.3 361.8h.7M178.0 348.0h.7M168.9 346.8h.7M179.9 357.2h.7M172.3 355.5h.7M166.0 356.8h.7M161.8 352.4h.7M175.9 345.0h.7M163.6 363.3h.7M161.8 339.0h.7M164.4 353.6h.7M168.9 351.0h.7M170.3 364.6h.7M172.8 364.2h.7M165.7 359.0h.7M181.1 348.8h.7M162.8 361.5h.7M160.7 361.7h.7M164.7 361.3h.7M158.4 346.3h.7M164.1 355.7h.7M155.7 353.3h.7M174.3 363.8h.7M171.6 352.6h.7M164.9 360.8h.7M163.8 354.0h.7M171.0 349.0h.7M167.8 344.6h.7M166.1 362.9h.7M177.2 348.0h.7M162.8 349.4h.7M166.9 355.5h.7M169.5 338.4h.7M183.9 351.3h.7M173.2 357.5h.7M160.9 356.8h.7M169.1 353.9h.7M169.9 357.8h.7M176.4 359.6h.7M176.4 349.1h.7M179.0 350.1h.7M165.0 346.8h.7M170.9 358.3h.7M167.8 352.1h.7M162.6 352.7h.7M175.1 349.9h.7M168.5 353.8h.7M169.2 355.6h.7M182.4 350.7h.7M174.0 348.3h.7M173.8 359.3h.7M173.8 352.7h.7M182.8 358.3h.7M163.4 360.6h.7M170.1 343.1h.7M153.8 347.5h.7M159.7 355.8h.7M155.7 349.8h.7M159.6 353.5h.7M164.1 351.4h.7M171.8 352.9h.7M157.1 353.0h.7M171.8 363.5h.7M172.2 352.5h.7M163.7 343.2h.7M162.2 341.2h.7M157.1 357.3h.7M158.1 348.8h.7M171.2 349.6h.7M155.8 353.4h.7M166.6 364.3h.7M170.9 346.1h.7M171.5 346.3h.7M165.4 344.3h.7M175.1 348.6h.7M166.6 360.4h.7M164.8 353.6h.7M154.5 349.6h.7M173.1 343.3h.7M160.6 357.9h.7M164.4 358.7h.7M171.7 357.3h.7M172.9 349.5h.7M175.1 357.5h.7M172.9 353.1h.7M157.7 347.6h.7M181.0 358.7h.7M166.1 352.3h.7M160.4 364.7h.7M173.3 347.1h.7M168.5 355.8h.7M157.6 362.3h.7M159.8 363.9h.7M164.7 342.3h.7M176.8 359.5h.7M155.4 364.1h.7M161.3 357.2h.7M167.0 358.6h.7M171.7 342.1h.7M162.7 351.4h.7M165.9 343.6h.7M170.2 354.5h.7M158.4 359.9h.7M165.7 357.3h.7M157.6 364.6h.7M155.3 345.3h.7M173.1 349.8h.7M164.6 357.3h.7M171.8 355.1h.7M181.0 349.3h.7M170.6 356.5h.7M162.6 355.2h.7M170.1 359.5h.7M157.6 351.2h.7M157.8 354.1h.7M168.5 360.9h.7M169.0 355.5h.7M164.3 355.6h.7M160.5 350.1h.7M170.0 357.5h.7M175.1 346.3h.7M169.3 345.9h.7M157.8 352.0h.7M174.8 360.4h.7M176.1 357.5h.7M158.0 346.7h.7M175.7 353.5h.7M183.3 354.6h.7M164.6 361.8h.7M167.6 357.0h.7M159.6 358.2h.7M174.4 348.0h.7M164.8 357.5h.7M167.7 360.5h.7M166.6 361.1h.7M167.9 364.9h.7M160.6 358.9h.7M171.4 346.0h.7M161.8 360.5h.7M153.1 365.3h.7M164.7 344.0h.7M161.9 346.1h.7M175.8 357.7h.7M167.4 345.3h.7M158.2 360.8h.7M159.4 359.7h.7M172.6 345.3h.7M176.1 349.7h.7M166.9 363.0h.7M174.3 356.7h.7M161.0 357.1h.7M175.1 352.9h.7M170.5 348.2h.7M170.0 343.4h.7M165.5 351.1h.7M167.4 359.6h.7M163.6 344.9h.7M159.1 358.6h.7M166.7 352.1h.7M167.6 355.6h.7M166.4 361.4h.7M156.4 357.2h.7M165.4 364.4h.7M166.5 351.2h.7M165.8 361.1h.7M174.6 361.9h.7M158.0 349.9h.7M171.0 359.2h.7M165.5 354.0h.7M167.4 360.4h.7M170.2 357.1h.7M168.7 349.0h.7M164.1 341.4h.7M174.4 347.2h.7M163.4 360.2h.7M155.7 360.9h.7M170.7 353.7h.7M176.2 359.1h.7M167.8 346.8h.7M162.9 355.4h.7M163.6 349.6h.7M171.7 352.5h.7M183.1 355.3h.7M161.8 353.0h.7M157.6 355.7h.7M172.3 354.7h.7M175.2 364.7h.7M163.8 352.9h.7M157.7 354.8h.7M171.2 359.4h.7M163.9 356.0h.7M180.8 362.4h.7M181.8 359.0h.7M164.8 346.6h.7M172.7 357.0h.7M161.1 347.3h.7M172.6 353.5h.7M154.8 355.8h.7M162.8 354.8h.7M173.4 355.4h.7M167.8 350.7h.7M164.9 364.7h.7M176.9 363.4h.7M172.2 356.9h.7M158.2 357.1h.7M167.2 356.7h.7M174.8 354.1h.7M173.8 355.4h.7M168.0 355.1h.7M157.3 352.8h.7M180.5 354.5h.7M178.2 353.3h.7M173.0 351.2h.7M166.3 352.7h.7M179.4 355.3h.7M164.1 356.6h.7M166.4 353.9h.7M169.8 347.9h.7M170.0 358.2h.7M158.3 345.4h.7M178.2 363.9h.7M171.2 354.3h.7M169.3 363.5h.7M170.4 347.5h.7M167.8 356.7h.7M178.7 344.0h.7M169.6 347.0h.7M161.7 357.7h.7M168.8 364.5h.7M161.2 350.1h.7M166.6 347.2h.7M173.7 362.6h.7M160.8 348.5h.7M159.4 358.3h.7M161.1 347.3h.7M168.1 351.5h.7M159.0 344.4h.7M168.5 358.3h.7M157.7 347.2h.7M181.2 359.3h.7M169.5 349.9h.7M166.6 361.4h.7M168.2 354.8h.7M169.0 349.4h.7M169.4 362.3h.7M180.2 350.6h.7M171.2 344.8h.7M166.7 353.1h.7M173.8 365.4h.7M161.6 365.6h.7M172.3 364.4h.7M173.0 361.1h.7M154.8 353.2h.7M155.7 354.4h.7M163.4 360.8h.7M177.1 355.8h.7M180.8 353.8h.7M174.4 356.7h.7M169.6 364.2h.7M155.8 363.8h.7M170.1 362.0h.7M168.2 341.0h.7M168.5 347.9h.7M168.0 363.2h.7M172.5 363.2h.7M167.2 356.1h.7M161.2 364.6h.7M161.0 341.0h.7M166.0 353.0h.7M161.0 361.0h.7M159.0 351.6h.7M165.5 361.3h.7M165.8 359.9h.7M168.2 357.2h.7M180.4 353.2h.7M172.7 355.1h.7M164.9 363.0h.7M174.0 348.9h.7M175.3 363.9h.7M161.0 348.5h.7M171.6 354.8h.7M171.3 361.3h.7M161.4 356.6h.7M160.6 349.3h.7M167.2 350.6h.7M166.8 356.7h.7M172.1 360.1h.7M177.1 349.5h.7M168.1 352.4h.7M165.8 345.4h.7M171.2 352.8h.7M169.0 356.5h.7M164.9 364.1h.7M169.5 358.6h.7M179.3 355.8h.7M161.2 356.8h.7M164.7 354.7h.7M160.9 345.9h.7M183.1 353.2h.7M179.1 365.4h.7M163.0 360.5h.7M175.3 360.2h.7M170.8 353.3h.7M158.3 349.7h.7M166.5 352.6h.7M161.9 358.6h.7M161.3 358.5h.7M167.2 347.5h.7M163.4 351.9h.7M162.6 354.4h.7M156.0 350.3h.7M168.3 350.3h.7M173.3 357.6h.7M165.5 350.2h.7M175.0 354.3h.7M178.5 352.6h.7M163.6 360.9h.7M172.6 356.3h.7M162.0 365.5h.7M161.7 364.0h.7M175.9 355.5h.7M174.4 347.6h.7M159.8 351.4h.7M172.0 355.9h.7M156.8 354.8h.7M167.0 351.1h.7M156.6 350.7h.7M174.0 349.3h.7M173.9 357.0h.7M154.5 351.6h.7M170.7 360.3h.7M177.0 347.9h.7M181.3 356.2h.7M163.9 362.1h.7M171.7 364.4h.7M166.2 352.6h.7M177.6 349.1h.7M174.6 364.9h.7M171.7 349.0h.7M169.1 349.8h.7M155.1 353.6h.7M165.2 352.1h.7M168.3 348.9h.7M164.7 363.5h.7M170.4 360.2h.7M168.0 346.5h.7M176.9 354.5h.7M174.8 353.8h.7M169.4 359.2h.7M178.6 360.4h.7M172.3 350.7h.7M169.4 351.0h.7M166.0 362.7h.7M171.1 359.7h.7M166.7 357.9h.7M165.7 362.6h.7M173.5 360.4h.7M171.8 363.7h.7M169.8 355.0h.7M174.8 364.2h.7M168.6 352.5h.7M170.0 354.1h.7M183.5 363.6h.7M158.1 352.6h.7M157.7 351.7h.7M154.7 346.5h.7M164.0 360.9h.7M162.8 359.7h.7M169.9 356.1h.7M164.7 352.6h.7M172.0 359.7h.7M173.4 357.3h.7M160.3 352.9h.7M164.7 349.7h.7M171.9 361.9h.7M163.3 362.6h.7M163.9 349.4h.7M163.3 347.7h.7M161.0 348.3h.7M173.7 346.7h.7M163.2 360.0h.7M166.6 355.6h.7M164.9 360.6h.7M172.1 351.1h.7M165.4 352.4h.7M167.9 357.4h.7M176.8 351.8h.7M175.3 338.5h.7M163.3 344.4h.7M166.4 350.9h.7M154.2 357.5h.7M171.3 359.6h.7M158.2 356.4h.7M172.5 353.2h.7M165.8 356.1h.7M165.6 351.9h.7M154.0 352.2h.7M174.2 362.7h.7M160.9 351.1h.7M169.4 344.8h.7M167.1 347.2h.7M169.3 356.5h.7M155.7 346.8h.7M160.2 345.2h.7M170.6 348.6h.7M169.4 348.6h.7M157.4 353.9h.7M161.4 339.7h.7M162.5 340.7h.7M173.0 356.7h.7M178.1 345.1h.7M163.5 358.0h.7M165.6 360.5h.7M162.5 362.7h.7M159.7 349.3h.7M165.2 348.5h.7M160.4 356.0h.7M174.6 352.1h.7M174.7 357.3h.7M173.2 347.6h.7M172.3 349.7h.7M170.2 361.7h.7M173.6 347.6h.7M182.2 354.3h.7M169.3 343.9h.7M163.2 356.4h.7M169.4 347.4h.7M166.1 350.0h.7M163.3 362.3h.7M168.6 354.8h.7M160.0 354.6h.7M169.4 361.7h.7M171.5 348.1h.7M164.4 349.3h.7M170.6 354.1h.7M160.3 345.0h.7M173.4 351.7h.7M165.4 357.8h.7M176.8 357.3h.7M173.7 343.9h.7M180.3 345.5h.7M164.3 361.4h.7M154.8 358.1h.7M166.3 354.7h.7M170.2 343.6h.7M158.1 344.4h.7M174.9 356.6h.7M160.0 363.9h.7M163.7 338.6h.7M165.3 350.3h.7M175.0 362.5h.7M156.1 356.7h.7M176.4 357.8h.7M176.6 344.6h.7M174.7 347.4h.7M166.0 352.5h.7M175.4 358.1h.7M153.9 346.1h.7M167.0 364.2h.7M166.8 345.7h.7M170.2 354.4h.7M176.2 354.9h.7M161.8 355.5h.7M165.2 338.3h.7M165.0 357.2h.7M164.1 362.8h.7M169.2 344.4h.7M161.1 339.5h.7M169.2 351.2h.7M167.5 357.3h.7M167.7 343.3h.7M166.0 361.9h.7M177.6 345.0h.7M167.8 358.2h.7M166.7 361.0h.7M164.2 356.6h.7M164.2 360.6h.7M161.7 339.8h.7M161.8 354.5h.7M165.2 359.7h.7M167.7 340.1h.7M167.8 359.2h.7M154.5 354.1h.7M180.7 360.4h.7M169.3 346.0h.7M179.7 349.4h.7M162.1 350.5h.7M167.4 342.9h.7M173.4 356.0h.7M164.0 360.5h.7M158.4 341.6h.7M174.5 353.6h.7M167.5 357.6h.7M165.0 364.9h.7M153.5 351.4h.7M162.5 349.0h.7M174.9 355.6h.7M167.2 347.7h.7M166.2 354.0h.7M167.0 338.8h.7M180.3 345.6h.7M166.3 354.2h.7M163.3 359.0h.7M163.7 361.9h.7M169.1 346.8h.7M176.3 347.2h.7M161.3 356.8h.7M173.4 358.3h.7M171.4 354.5h.7M160.1 360.5h.7M165.1 357.1h.7M163.9 363.8h.7M163.3 345.1h.7M176.6 358.6h.7M165.1 354.2h.7M160.1 355.9h.7M162.7 362.8h.7M174.2 347.0h.7M164.4 349.9h.7M157.0 350.1h.7M169.7 348.2h.7M167.6 358.5h.7M156.1 345.7h.7M164.2 351.7h.7M172.4 361.6h.7M153.8 351.7h.7M170.6 363.1h.7M168.4 350.6h.7M174.7 364.9h.7M173.7 359.4h.7M165.2 349.8h.7M163.7 354.1h.7M162.0 346.7h.7M168.6 343.6h.7M165.8 343.4h.7M156.0 352.3h.7M179.4 358.1h.7M176.1 355.0h.7M167.5 346.3h.7M162.0 355.0h.7M174.4 349.6h.7M166.8 349.7h.7M166.5 359.2h.7M178.6 358.2h.7M169.4 352.9h.7M160.0 357.5h.7M170.5 352.7h.7M177.0 343.3h.7M167.2 365.0h.7M170.7 341.9h.7M158.3 345.8h.7M180.1 365.0h.7M157.8 356.8h.7M159.3 348.8h.7M157.4 341.2h.7M173.5 354.6h.7M157.3 352.6h.7M167.0 358.7h.7M167.4 358.5h.7M178.2 349.4h.7M173.4 348.7h.7M166.2 344.0h.7M165.2 352.0h.7M172.8 360.1h.7M172.3 357.9h.7M166.4 351.4h.7M163.2 343.7h.7M166.0 354.2h.7M168.1 351.1h.7M156.5 358.3h.7M179.1 358.3h.7M167.0 357.5h.7M182.8 364.7h.7M161.0 353.4h.7M166.9 341.5h.7M153.5 354.5h.7M175.3 340.5h.7M163.9 352.4h.7M176.2 361.9h.7M164.4 340.3h.7M172.4 351.3h.7M171.1 360.2h.7M181.1 340.3h.7M174.0 355.6h.7M167.2 349.4h.7M168.9 357.4h.7M164.8 362.7h.7M174.3 355.5h.7M167.7 354.5h.7M165.9 357.1h.7M158.8 354.6h.7M169.3 339.1h.7M170.7 355.4h.7M167.6 344.5h.7M157.9 359.3h.7M157.4 357.2h.7" stroke="#000" stroke-width="0.7" fill="none" opacity="0.62"/>
<path d="M181.0 350.9h.8M174.8 355.9h.8M176.2 346.3h.8M172.2 350.3h.8M170.1 349.8h.8M171.9 353.2h.8M170.6 357.6h.8M177.3 352.6h.8M171.1 356.7h.8M174.2 355.3h.8M170.8 356.2h.8M168.6 363.9h.8M169.5 353.7h.8M173.6 356.4h.8M172.7 358.0h.8M161.9 353.6h.8M172.6 351.5h.8M178.0 348.1h.8M172.8 341.6h.8M174.0 344.1h.8M175.3 354.1h.8M173.6 345.2h.8M169.7 356.8h.8M166.2 355.9h.8M167.5 354.9h.8M169.5 365.2h.8M176.4 350.9h.8M166.9 349.2h.8M172.9 347.9h.8M174.0 360.4h.8M172.9 351.4h.8M175.6 352.3h.8M175.8 352.2h.8M178.3 352.4h.8M169.6 354.8h.8M171.0 348.3h.8M172.7 358.9h.8M166.1 353.9h.8M172.6 353.3h.8M175.7 346.0h.8M175.2 352.8h.8M173.5 352.8h.8M172.0 350.9h.8M176.6 359.7h.8M175.0 351.3h.8M169.0 359.6h.8M176.5 356.2h.8M175.8 363.2h.8M180.4 362.7h.8M178.6 356.6h.8M175.9 355.6h.8M174.2 351.7h.8M175.5 363.7h.8M172.8 356.2h.8M175.3 354.8h.8M176.4 356.3h.8M169.6 348.2h.8M175.7 358.7h.8M176.9 356.3h.8M174.0 344.9h.8M177.9 349.0h.8M176.7 347.6h.8M171.2 355.8h.8M172.0 350.4h.8M176.3 359.0h.8M174.7 352.7h.8M170.7 351.8h.8M171.7 354.7h.8M175.9 353.8h.8M170.9 351.0h.8M177.6 355.9h.8M174.2 356.6h.8M175.4 355.8h.8M177.2 360.0h.8M164.3 354.1h.8M173.9 361.7h.8M173.5 363.3h.8M169.4 347.2h.8M172.9 350.4h.8M170.0 358.5h.8M174.4 355.1h.8M172.2 356.6h.8M173.1 350.5h.8M175.1 357.3h.8M173.8 359.3h.8M170.0 354.1h.8M171.8 363.3h.8M178.5 352.7h.8M170.0 358.0h.8M172.6 354.0h.8M170.1 358.7h.8M174.1 357.5h.8M174.5 349.4h.8M166.3 353.3h.8M171.5 351.7h.8M176.6 354.4h.8M178.3 356.1h.8M175.7 358.1h.8M176.1 347.2h.8M177.0 355.7h.8M170.4 358.8h.8M174.6 363.0h.8M175.8 357.3h.8M168.3 365.4h.8M178.3 359.8h.8M175.0 362.5h.8M170.7 359.3h.8M173.6 348.8h.8M174.7 357.2h.8M179.0 360.9h.8M168.4 342.8h.8M173.2 353.7h.8M170.5 346.0h.8M172.9 347.8h.8M171.3 360.3h.8M174.3 350.3h.8M169.9 353.8h.8M179.0 351.9h.8M179.0 350.1h.8M172.8 359.3h.8M171.0 355.3h.8M169.2 359.1h.8M177.2 351.0h.8M174.1 352.5h.8M175.5 360.1h.8M174.7 356.1h.8M181.1 343.7h.8M172.5 352.4h.8M172.8 359.3h.8M171.2 346.8h.8M169.9 357.8h.8M176.5 360.0h.8M178.6 351.8h.8M176.7 359.2h.8M173.0 350.3h.8M176.3 350.8h.8M172.6 349.0h.8M179.1 354.7h.8M171.9 353.5h.8M172.8 355.5h.8M168.0 347.8h.8M175.1 361.7h.8M170.3 355.7h.8M171.7 340.9h.8M172.5 348.3h.8M176.3 353.7h.8M173.4 345.9h.8M174.0 342.9h.8M174.2 363.5h.8M169.6 360.3h.8M178.0 353.7h.8M177.1 355.5h.8M171.9 342.5h.8M170.0 345.8h.8M181.1 356.6h.8M172.9 346.6h.8M179.0 347.8h.8M178.3 361.7h.8M173.7 350.9h.8M173.3 346.8h.8M175.6 365.4h.8M176.4 361.5h.8M171.3 356.9h.8M170.2 352.2h.8M173.7 355.2h.8M167.4 356.1h.8M170.6 346.3h.8M168.7 355.9h.8M172.2 359.2h.8M172.7 355.0h.8M178.2 360.0h.8M176.0 364.2h.8M174.2 348.8h.8M170.9 345.3h.8M174.6 352.5h.8M175.1 360.2h.8M170.9 356.1h.8M177.6 355.5h.8M176.5 353.8h.8M170.4 353.6h.8M167.4 359.4h.8M171.8 363.4h.8M169.5 355.8h.8M174.6 353.7h.8M174.7 350.3h.8M170.0 346.2h.8M171.7 349.9h.8M174.3 352.7h.8M171.4 350.4h.8M167.4 352.7h.8M174.8 346.7h.8M172.7 359.2h.8M171.3 356.2h.8M178.0 362.4h.8M171.3 359.1h.8M173.0 357.3h.8M171.6 356.0h.8M171.0 356.8h.8M179.2 346.4h.8M169.2 358.2h.8M176.1 352.6h.8M175.4 357.7h.8M175.3 363.7h.8M171.4 359.1h.8M174.2 350.7h.8M175.1 346.8h.8M168.7 361.8h.8M176.9 351.7h.8M170.6 340.9h.8M173.3 344.7h.8M178.6 344.4h.8M172.3 363.4h.8M172.0 349.8h.8M171.9 357.4h.8M176.4 353.5h.8M166.8 356.9h.8M174.0 356.1h.8M171.7 359.7h.8M179.3 348.6h.8M173.7 348.4h.8M171.2 353.8h.8M175.1 349.7h.8M172.5 363.6h.8M175.1 359.4h.8M174.8 353.8h.8M174.9 358.3h.8M173.5 361.5h.8M173.5 360.7h.8M173.6 359.6h.8M171.3 351.4h.8M169.7 362.6h.8M175.2 356.3h.8M175.5 349.7h.8M173.8 351.7h.8M167.4 353.3h.8M170.6 364.0h.8M171.0 351.0h.8M176.7 354.9h.8M169.1 356.4h.8M170.0 350.3h.8M164.5 350.7h.8M179.6 354.2h.8M170.3 356.8h.8M172.5 354.7h.8M170.5 342.6h.8M175.9 357.5h.8M173.6 354.2h.8M175.8 358.6h.8M174.3 358.1h.8M172.8 352.6h.8M178.1 353.4h.8M180.0 359.1h.8M173.7 362.1h.8M171.9 353.8h.8M172.4 355.0h.8M175.2 348.2h.8M170.8 343.5h.8M175.9 360.6h.8M174.6 357.3h.8M175.2 357.7h.8M175.6 356.4h.8M170.3 361.0h.8M177.9 344.6h.8M172.7 347.8h.8M175.2 353.2h.8M178.2 362.0h.8M172.0 351.9h.8M171.6 358.6h.8M170.4 357.8h.8M168.9 361.6h.8M175.1 347.6h.8M170.9 355.9h.8M174.2 364.6h.8M172.0 346.4h.8M177.5 356.5h.8M174.1 358.9h.8M169.5 350.7h.8M169.8 347.8h.8M172.4 348.3h.8M178.8 358.2h.8M176.2 344.4h.8M172.8 354.0h.8M174.0 357.8h.8M170.9 349.1h.8M180.3 353.2h.8M170.9 356.2h.8M172.7 350.2h.8M176.9 350.4h.8M170.7 358.4h.8M172.8 348.3h.8M172.6 352.3h.8M172.7 350.3h.8M175.4 352.7h.8M171.5 361.7h.8M170.5 359.7h.8M175.4 353.1h.8M174.2 345.6h.8M174.3 348.4h.8M170.7 356.6h.8M171.1 355.8h.8M174.8 361.6h.8M174.8 361.5h.8M171.0 352.6h.8M175.6 362.4h.8M174.9 351.6h.8M170.0 349.0h.8M177.1 348.8h.8M172.7 359.0h.8M174.9 350.5h.8M179.9 356.0h.8M174.4 360.1h.8M172.5 359.3h.8M173.0 349.4h.8M170.4 357.4h.8M173.8 354.0h.8M172.0 353.4h.8M176.1 361.9h.8M172.7 356.6h.8M167.5 347.8h.8M171.2 349.3h.8M175.7 341.9h.8M175.1 359.3h.8M180.6 351.9h.8M175.0 364.2h.8M176.5 349.1h.8M172.3 347.8h.8M173.7 359.3h.8M177.9 358.5h.8M176.4 361.6h.8M170.8 359.2h.8M176.6 353.9h.8M170.4 356.0h.8M174.0 359.3h.8M167.7 352.7h.8M180.0 363.1h.8M173.0 353.2h.8M172.6 348.9h.8M172.0 354.7h.8M169.6 354.5h.8M174.4 347.0h.8M172.0 345.3h.8M173.6 356.4h.8M171.8 355.4h.8M175.3 359.2h.8M169.2 353.0h.8M168.9 343.2h.8M176.8 359.7h.8M177.6 359.8h.8M171.9 356.3h.8M171.8 363.5h.8M165.9 357.5h.8M171.7 359.5h.8M177.4 351.0h.8M177.9 361.8h.8M169.7 346.6h.8M176.5 350.5h.8M174.2 354.7h.8M170.2 365.0h.8M178.3 355.5h.8M178.6 354.9h.8M174.3 353.1h.8M169.3 352.9h.8M170.4 357.5h.8M174.0 351.4h.8M177.6 357.3h.8M179.4 352.6h.8M172.3 350.4h.8M174.3 354.0h.8M176.1 351.1h.8M174.8 353.4h.8M172.5 353.7h.8M173.7 359.0h.8M176.8 355.2h.8M170.9 355.0h.8M172.9 353.3h.8M169.6 354.2h.8M167.7 362.9h.8M175.9 359.7h.8M170.5 356.5h.8M177.6 353.7h.8M170.1 354.3h.8M166.2 360.8h.8M174.9 346.5h.8M175.7 362.1h.8M175.6 359.1h.8M178.4 356.4h.8M178.0 353.8h.8M171.3 353.0h.8M170.2 357.5h.8M171.3 357.3h.8M174.5 365.1h.8M179.2 351.6h.8M173.0 354.0h.8M177.5 353.7h.8M169.1 351.0h.8M173.6 364.8h.8M169.4 364.0h.8M168.9 357.2h.8M169.8 352.4h.8M165.8 358.7h.8M173.6 348.5h.8M166.7 354.6h.8M173.4 346.0h.8M175.0 354.2h.8M169.8 350.0h.8M165.6 359.5h.8M176.6 353.7h.8M169.4 348.0h.8M172.5 349.4h.8M174.4 349.5h.8M176.4 362.3h.8M171.6 349.9h.8M164.0 355.1h.8M174.7 349.1h.8M177.0 350.8h.8M169.7 360.0h.8M174.9 342.1h.8M171.2 346.9h.8M172.8 356.0h.8M172.0 355.9h.8M176.3 352.9h.8M169.4 348.8h.8M172.9 357.3h.8M170.9 351.3h.8M176.5 351.7h.8M174.0 355.7h.8M177.2 356.4h.8M173.3 353.0h.8M171.7 361.2h.8M180.3 345.1h.8M176.7 348.7h.8M171.5 353.0h.8M172.0 352.6h.8M168.8 350.9h.8M171.0 356.1h.8M169.3 354.8h.8M175.5 354.5h.8M173.1 350.6h.8M171.5 352.6h.8M176.3 348.7h.8M171.6 354.7h.8M170.5 358.9h.8M172.2 358.0h.8M175.1 364.1h.8M179.0 349.6h.8M169.3 347.7h.8M175.0 358.2h.8M173.5 354.7h.8M178.3 360.4h.8M174.2 358.7h.8M168.7 362.2h.8M180.0 355.8h.8M172.1 362.6h.8M171.9 355.5h.8M175.4 354.0h.8M175.7 343.0h.8M165.7 359.5h.8M175.2 356.3h.8M172.2 355.2h.8M174.9 347.9h.8M174.3 350.1h.8M180.1 357.2h.8M174.4 361.2h.8M176.5 360.9h.8M171.4 355.9h.8M176.3 356.4h.8M173.9 351.5h.8M174.1 363.5h.8M169.7 346.6h.8M169.7 345.5h.8M175.1 355.6h.8M177.9 361.5h.8M166.3 354.6h.8M181.3 352.6h.8M171.3 351.2h.8M178.5 352.3h.8M174.9 362.4h.8M174.1 355.1h.8M170.2 347.4h.8M176.9 347.1h.8M176.9 362.7h.8M178.3 353.9h.8M170.8 355.6h.8M177.6 358.4h.8M175.0 354.3h.8M176.4 343.1h.8M169.8 364.6h.8M175.0 359.4h.8M167.5 349.8h.8M172.2 354.4h.8M177.3 351.6h.8M173.9 350.6h.8M172.8 357.3h.8M174.8 361.1h.8M169.5 359.8h.8M174.9 350.2h.8M177.7 350.9h.8M172.4 358.3h.8M178.0 352.5h.8M178.2 357.5h.8M171.1 359.5h.8M173.7 350.6h.8M173.0 362.7h.8M174.6 353.5h.8M176.1 346.4h.8M175.6 363.2h.8M169.9 348.3h.8M170.8 353.8h.8M171.1 354.9h.8M170.4 356.8h.8M175.3 357.8h.8M171.7 360.1h.8M168.6 351.0h.8M173.3 362.9h.8M172.3 358.8h.8M179.0 350.2h.8M174.4 358.1h.8M175.6 358.2h.8M173.2 355.3h.8M169.2 359.5h.8M174.5 351.5h.8M179.2 355.1h.8M171.5 358.7h.8M174.9 359.0h.8M173.2 359.8h.8M173.9 362.4h.8M174.6 350.1h.8M170.3 358.6h.8M176.5 346.2h.8M175.5 354.6h.8M174.4 350.1h.8M170.0 351.5h.8M171.0 352.5h.8M173.9 355.3h.8M179.5 349.3h.8M172.2 355.7h.8M175.5 348.8h.8M169.0 356.6h.8M174.7 358.6h.8M175.6 345.7h.8M176.9 354.3h.8M180.1 352.7h.8M166.8 354.4h.8M174.1 357.0h.8M174.2 351.9h.8M168.3 354.0h.8M172.5 351.1h.8M173.7 353.2h.8M167.2 350.0h.8M170.9 353.5h.8M178.7 354.8h.8M175.3 342.3h.8M177.3 351.8h.8M175.2 348.5h.8M173.4 360.0h.8M173.4 356.4h.8M171.1 350.7h.8M174.4 353.9h.8M173.9 351.0h.8M172.3 359.6h.8M177.9 352.6h.8M171.5 355.8h.8M176.4 356.8h.8M176.9 353.9h.8M170.5 343.6h.8M176.2 356.6h.8M171.5 357.2h.8M169.9 361.3h.8M176.8 362.1h.8M172.1 363.7h.8M176.1 364.7h.8M168.2 360.7h.8M177.6 353.3h.8M176.5 355.8h.8M178.1 353.6h.8M173.7 348.0h.8M180.0 350.1h.8M170.3 349.6h.8M173.8 355.5h.8M174.9 364.5h.8M176.6 346.3h.8M174.1 354.0h.8M175.9 355.9h.8M177.7 355.9h.8M179.7 349.3h.8M177.2 360.7h.8M171.3 347.0h.8M171.5 357.4h.8M178.7 346.2h.8M172.7 347.4h.8M176.0 356.0h.8M173.7 359.6h.8M174.5 364.0h.8M172.7 351.5h.8M173.6 354.9h.8M177.6 352.7h.8M171.9 351.0h.8M171.1 343.2h.8M174.0 358.2h.8M174.1 350.4h.8M176.4 359.4h.8M174.4 359.0h.8M173.2 357.5h.8M175.2 347.7h.8M172.0 350.8h.8M174.8 339.4h.8M174.4 355.0h.8M173.0 357.5h.8M168.9 356.4h.8M171.2 351.4h.8M177.9 353.0h.8M176.9 354.9h.8M172.6 352.8h.8M169.0 353.0h.8M174.0 363.6h.8M175.9 360.1h.8M170.6 350.6h.8M174.7 358.3h.8M170.2 361.4h.8M171.5 356.7h.8M172.1 359.5h.8M176.3 361.3h.8M170.7 356.0h.8M180.6 355.1h.8M175.0 355.9h.8M178.5 350.9h.8M175.0 355.6h.8M176.6 360.2h.8M169.8 350.2h.8M178.6 351.7h.8M173.4 351.2h.8M179.6 347.6h.8M174.1 352.8h.8M172.6 347.7h.8M171.0 353.9h.8M174.3 343.9h.8M173.8 349.8h.8M173.4 352.4h.8M173.2 353.6h.8M175.0 355.1h.8M168.2 340.4h.8M169.0 356.8h.8M168.2 348.9h.8M179.3 352.8h.8M172.9 357.1h.8M175.5 351.9h.8M173.8 342.6h.8M174.5 358.5h.8M168.0 360.6h.8M179.5 339.4h.8M172.9 363.6h.8M175.7 350.7h.8M171.6 352.7h.8M175.6 349.7h.8M168.8 355.8h.8M171.0 365.3h.8M170.2 356.7h.8M172.8 345.9h.8M171.9 342.8h.8M174.7 349.1h.8M169.5 345.3h.8M177.9 358.1h.8M170.3 353.9h.8M175.4 358.5h.8M173.5 342.1h.8M178.8 354.1h.8M177.9 347.1h.8M176.0 363.2h.8M177.1 347.4h.8M172.7 364.5h.8" stroke="#000" stroke-width="0.8" fill="none" opacity="0.7"/>
<path d="M30.3 281.6 V311 M30.3 341.4 V369.2" class="ln"/>
<path d="M55.8 381.6 H90 M204.6 381.2 H249.9" class="ln"/>
<path d="M347.7 74.6 V176.7 H517.6" class="ax2"/>
<clipPath id="ct"><rect x="347" y="60" width="173" height="117.4"/></clipPath><g clip-path="url(#ct)">
<path d="M348.0 176.0 H350.3 V175.7 H352.7 V175.4 H355.0 V175.6 H357.3 V174.3 H359.7 V173.9 H362.0 V172.9 H364.0 V171.3 H366.0 V170.3 H368.0 V168.6 H369.9 V166.8 H371.7 V164.5 H373.6 V162.4 H374.4 V160.5 H375.2 V158.7 H375.9 V156.0 H376.7 V153.9 H377.5 V152.1 H378.1 V150.3 H378.8 V147.9 H379.4 V145.6 H380.0 V144.0 H380.7 V141.1 H381.3 V139.7 H381.7 V137.3 H382.1 V135.3 H382.5 V133.4 H382.8 V131.6 H383.2 V130.1 H383.6 V127.7 H384.0 V126.1 H384.4 V124.0 H384.8 V121.8 H385.2 V119.8 H385.7 V117.4 H386.1 V115.3 H386.5 V113.4 H387.0 V111.6 H387.5 V109.2 H388.0 V107.0 H388.5 V105.1 H389.1 V103.1 H389.8 V101.1 H390.4 V99.6 H391.4 V97.4 H392.5 V94.8 H394.0 V93.1 H395.4 V92.6 H396.5 V95.3 H397.0 V97.2 H397.5 V98.8 H398.0 V101.4 H398.3 V102.5 H398.6 V104.6 H398.9 V106.7 H399.3 V108.1 H399.6 V110.2 H399.9 V111.6 H400.2 V114.1 H400.5 V116.2 H400.9 V118.1 H401.2 V120.3 H401.5 V121.9 H401.8 V124.2 H402.1 V126.2 H402.4 V128.2 H402.7 V130.2 H403.0 V132.6 H403.3 V134.8 H403.6 V136.5 H404.0 V138.5 H404.4 V139.9 H404.7 V142.4 H405.1 V144.2 H405.5 V146.4 H405.9 V148.2 H406.4 V149.6 H406.9 V151.6 H407.3 V153.7 H408.4 V155.4 H409.5 V158.0 H412.2 V160.7 H414.6 V162.5 H417.0 V164.3 H419.5 V166.7 H422.0 V168.0 H424.0 V168.9 H426.0 V169.9 H429.3 V171.6 H431.8 V172.6 H434.2 V174.5 H436.0 V175.4 H437.9 V176.5" stroke="#000" stroke-width="1.5" fill="none"/>
<path d="M397.0 176.0 H398.0 V174.3 H399.0 V172.4 H400.0 V169.8 H400.8 V167.6 H401.7 V165.2 H402.5 V163.4 H403.1 V161.3 H403.8 V158.4 H404.4 V156.3 H405.0 V154.2 H405.6 V151.9 H406.1 V149.7 H406.7 V147.5 H407.3 V144.8 H407.7 V142.3 H408.1 V140.5 H408.4 V138.3 H408.8 V136.3 H409.2 V134.5 H409.6 V132.2 H409.9 V130.0 H410.3 V128.1 H410.6 V126.2 H411.0 V123.6 H411.3 V122.2 H411.7 V119.9 H412.0 V117.8 H412.4 V115.5 H412.7 V112.9 H413.1 V110.8 H413.4 V108.4 H413.8 V106.8 H414.1 V104.2 H414.5 V102.1 H415.0 V100.0 H415.5 V97.8 H416.0 V95.8 H417.0 V93.2 H417.8 V95.8 H418.5 V98.7 H418.9 V100.8 H419.2 V103.2 H419.6 V105.0 H420.0 V108.0 H420.3 V109.9 H420.7 V111.6 H421.2 V114.0 H421.6 V116.3 H422.1 V118.6 H422.6 V120.6 H423.1 V123.3 H423.5 V125.5 H423.9 V127.0 H424.4 V129.0 H424.8 V130.6 H425.3 V132.6 H425.8 V134.8 H426.2 V136.8 H426.8 V139.6 H427.4 V141.2 H428.0 V143.3 H428.8 V146.7 H429.7 V148.6 H430.5 V150.6 H431.3 V153.1 H432.2 V154.7 H433.0 V157.3 H434.2 V160.4 H435.5 V162.9 H436.7 V164.9 H437.9 V166.8 H440.4 V170.4 H442.8 V172.9 H446.5 V176.0" stroke="#808080" stroke-width="3.1" fill="none"/>
<path d="M396.2 175.5 H397.4 V172.3 H398.6 V169.4 H399.9 V166.0 H401.1 V163.0 H401.9 V161.0 H402.7 V158.5 H403.5 V155.5 H404.3 V152.5 H405.2 V149.6 H406.0 V146.6 H406.6 V143.5 H407.3 V141.5 H407.9 V138.8 H408.5 V135.9 H409.1 V133.4 H409.7 V131.3 H410.6 V128.0 H411.5 V125.3 H412.4 V122.8 H413.4 V119.2 H414.3 V117.3 H415.2 V114.7 H416.1 V112.4 H417.0 V109.3 H417.9 V106.9 H418.9 V104.6 H420.7 V100.6 H422.3 V97.6 H423.9 V96.2 H425.4 V99.6 H426.1 V101.7 H426.9 V103.4 H427.8 V106.2 H428.7 V108.9 H429.6 V110.3 H430.5 V113.4 H431.4 V116.2 H432.4 V118.4 H433.3 V120.9 H434.2 V123.0 H435.1 V125.3 H436.0 V128.9 H436.9 V131.0 H437.9 V134.4 H438.9 V137.4 H439.8 V139.4 H440.7 V142.1 H441.6 V145.6 H442.5 V148.1 H443.4 V150.0 H444.3 V152.7 H445.2 V155.5 H446.1 V158.8 H447.0 V160.9 H448.9 V164.2 H451.3 V169.3 H453.8 V172.7 H457.0 V174.5 H460.0 V175.5 H464.0 V176.5" stroke="#000" stroke-width="3.9" fill="none" stroke-linejoin="round"/>
<path d="M419.5 104 L421 98.5 L423.9 94.5 L426.5 98.5 L428.5 107 L424 103Z" fill="#000"/>
</g>
<path d="M362.1 97.1 L370.6 110.4" stroke="#000" stroke-width="1.2" fill="none"/>
<path d="M373.8 115.5 L368.4 111.8 L372.8 109.0Z" fill="#000"/>
<path d="M408.3 72.7 L411.1 82.7" stroke="#808080" stroke-width="1.3" fill="none"/>
<path d="M412.7 88.5 L408.6 83.4 L413.6 82.0Z" fill="#808080"/>
<path d="M463.4 111.7 L450.3 120.7" stroke="#000" stroke-width="3.3" fill="none"/>
<path d="M442.7 125.9 L447.7 116.9 L452.9 124.5Z" fill="#000"/>
<path d="M346.9 238 V343.4 H518.4" class="ax2"/>
<clipPath id="cb"><rect x="346" y="230" width="174" height="114.1"/></clipPath><g clip-path="url(#cb)">
<path d="M378.0 342.5 H380.5 V341.2 H383.0 V340.3 H385.2 V339.9 H387.5 V337.7 H391.5 V333.5 H393.0 V331.9 H394.5 V328.9 H396.0 V326.9 H397.5 V324.2 H398.8 V320.2 H400.0 V317.2 H401.2 V314.2 H402.5 V311.0 H403.2 V309.1 H403.8 V306.1 H404.5 V303.9 H405.2 V301.1 H405.8 V299.7 H406.5 V296.5 H407.1 V293.7 H407.7 V291.0 H408.3 V288.6 H408.9 V285.2 H409.4 V283.3 H410.0 V280.0 H410.6 V277.0 H411.3 V274.0 H412.7 V269.6 H415.0 V269.1 H418.0 V268.8 H421.3 V269.6 H422.0 V273.3 H422.8 V275.0 H423.5 V278.0 H424.0 V280.7 H424.5 V282.8 H425.0 V284.8 H425.5 V287.4 H426.0 V289.8 H426.6 V292.3 H427.1 V293.7 H427.6 V296.6 H428.2 V298.5 H428.7 V300.9 H429.2 V304.0 H429.8 V306.0 H430.5 V308.9 H431.3 V312.0 H432.0 V315.1 H432.8 V317.3 H433.5 V320.3 H434.3 V323.0 H434.9 V325.4 H435.4 V327.9 H436.0 V329.9 H436.5 V332.4 H437.1 V334.6 H437.6 V337.6 H440.0 V341.3 H443.0 V343.3" stroke="#808080" stroke-width="4.1" fill="none" stroke-linejoin="round"/>
<path d="M348.0 341.5 H349.0 V339.7 H352.0 V340.4 H355.0 V341.9 H358.0 V341.7 H361.0 V340.3 H364.5 V338.4 H368.0 V338.9 H370.7 V337.9 H374.0 V335.8 H377.5 V333.6 H378.9 V331.1 H380.2 V329.8 H381.4 V327.5 H382.5 V325.1 H383.6 V321.2 H384.6 V319.3 H385.7 V316.3 H386.8 V312.4 H387.7 V311.1 H388.6 V308.7 H389.5 V304.8 H390.3 V303.2 H391.1 V299.6 H392.0 V297.0 H392.9 V294.8 H393.7 V291.5 H394.4 V287.5 H395.2 V284.9 H395.9 V282.3 H396.6 V279.2 H397.3 V276.0 H398.0 V273.2 H399.2 V269.9 H400.5 V268.2 H401.8 V272.1 H402.4 V274.4 H403.0 V276.2 H403.5 V279.1 H404.1 V281.9 H404.6 V284.0 H405.2 V285.8 H405.7 V289.8 H406.3 V292.0 H406.9 V295.1 H407.4 V296.5 H408.0 V299.6 H408.5 V302.1 H409.1 V306.1 H409.6 V308.1 H410.2 V310.5 H410.8 V313.6 H411.4 V317.0 H412.0 V319.2 H412.6 V320.7 H413.2 V322.9 H413.8 V326.7 H414.5 V328.6 H415.1 V331.3 H416.1 V333.1 H417.2 V335.8 H419.3 V340.3 H423.0 V343.4" stroke="#000" stroke-width="4.8" fill="none" stroke-linejoin="round"/>
<path d="M392.5 291 L394.5 281 L396.5 272 L398.5 267.5 L401.5 267.5 L403.5 273 L405.5 282 L407 291 L400 296Z" fill="#000"/>
<path d="M347.5 343.4 L347.5 338 L349 336.8 L350.5 339.5 L353 340.3 L356 339.6 L358.5 338.3 L361 337.6 L363 338.6 L365.5 337.3 L368 337.8 L370.5 335.8 L373 334.5 L376 332 L379 333 L379 343.4Z M419 343.4 L420.5 340 L423 341.3 L426 340.6 L429 341.6 L432 341.2 L435 341.8 L438 341 L441 341.6 L444 340.6 L447 341.2 L450 340.4 L452.5 338.6 L455 338 L458 338.2 L461 338.8 L463 340.2 L466 340.6 L468 341.6 L471 342 L474 343.4Z" fill="#000"/>
<path d="M371.5 339.0 L375.0 333.5 L377.4 328.6 L379.6 322.5 L381.6 316.3 L383.3 310.0 L384.9 304.0 L386.7 298.0 L388.5 291.8 L390.0 285.5 L391.5 279.5 L392.7 273.0 L393.8 267.3 L394.8 263.8 L395.5 268.0 L395.7 273.0 L397.5 274.3 L399.2 273.0 L399.5 267.5 L400.0 264.5 L401.0 267.0 L402.0 271.0" stroke="#fff" stroke-width="0.9" fill="none" transform="translate(1.25 0.5)"/>
<path d="M371.5 339.0 L375.0 333.5 L377.4 328.6 L379.6 322.5 L381.6 316.3 L383.3 310.0 L384.9 304.0 L386.7 298.0 L388.5 291.8 L390.0 285.5 L391.5 279.5 L392.7 273.0 L393.8 267.3 L394.8 263.8 L395.5 268.0 L395.7 273.0 L397.5 274.3 L399.2 273.0 L399.5 267.5 L400.0 264.5 L401.0 267.0 L402.0 271.0" stroke="#000" stroke-width="1.2" fill="none"/>
</g>
<path d="M376.2 250.6 L384.6 263.4" stroke="#000" stroke-width="1.3" fill="none"/>
<path d="M388.5 269.2 L382.1 265.0 L387.1 261.7Z" fill="#000"/>
<path d="M424.3 243.8 L411.2 259.5" stroke="#000" stroke-width="3.3" fill="none"/>
<path d="M405.6 266.3 L407.1 256.1 L415.3 262.9Z" fill="#000"/>
<path d="M464.9 290.5 L443.5 309.2" stroke="#808080" stroke-width="1.3" fill="none"/>
<path d="M438.4 313.7 L441.5 306.9 L445.6 311.6Z" fill="#808080"/>
<path d="M355.6 366 H400.6 M454.2 366 H508.6" class="ln"/>
<text class="t16b" text-anchor="start" transform="translate(72.53 264.5) scale(0.9788 1)">MLN</text>
<text class="t16b" text-anchor="start" transform="translate(153.52 264.5) scale(0.9909 1)">MLN + LDG</text>
<text class="t15b" text-anchor="start" transform="translate(50.45 296.0) scale(1.0554 1)">0 %</text>
<text class="t15b" text-anchor="start" transform="translate(87.2 356.0) scale(1.041 1)">0.36 %</text>
<text class="t15b" text-anchor="start" transform="translate(150.71 296.0) scale(1.0261 1)">0.2 %</text>
<text class="t15b" text-anchor="start" transform="translate(195.26 355.9) scale(1.0279 1)">0.48 %</text>
<text class="t15b" text-anchor="start" transform="translate(22.38 330.4) scale(1.1065 1)">PI</text>
<text class="t16b" text-anchor="start" transform="translate(97.69 386.1) scale(0.9523 1)">Annexin-V fitc</text>
<text class="t15" text-anchor="start" transform="translate(352.47 88.0) scale(1.0087 1)">control</text>
<text class="t15" text-anchor="start" transform="translate(401.95 68.3) scale(1.0357 1)">stim</text>
<text class="t15" text-anchor="start" transform="translate(450.21 103.8) scale(0.9968 1)">stim / cat</text>
<text class="b17" text-anchor="start" transform="translate(291.19 115.6) scale(0.9563 1)">LDG</text>
<text class="b17" text-anchor="start" transform="translate(287.59 264.8) scale(0.9523 1)">Lymph</text>
<text class="t15" text-anchor="start" transform="translate(355.97 244.9) scale(1.0156 1)">control</text>
<text class="t15" text-anchor="start" transform="translate(410.73 238.8) scale(1.0014 1)">+LDG/ cat</text>
<text class="t15" text-anchor="start" transform="translate(446.21 287.6) scale(1.0234 1)">+LDG</text>
<text class="t16" text-anchor="start" transform="translate(408.48 371.9) scale(1.0152 1)">DHR</text>
</svg>
</body>
</html>
